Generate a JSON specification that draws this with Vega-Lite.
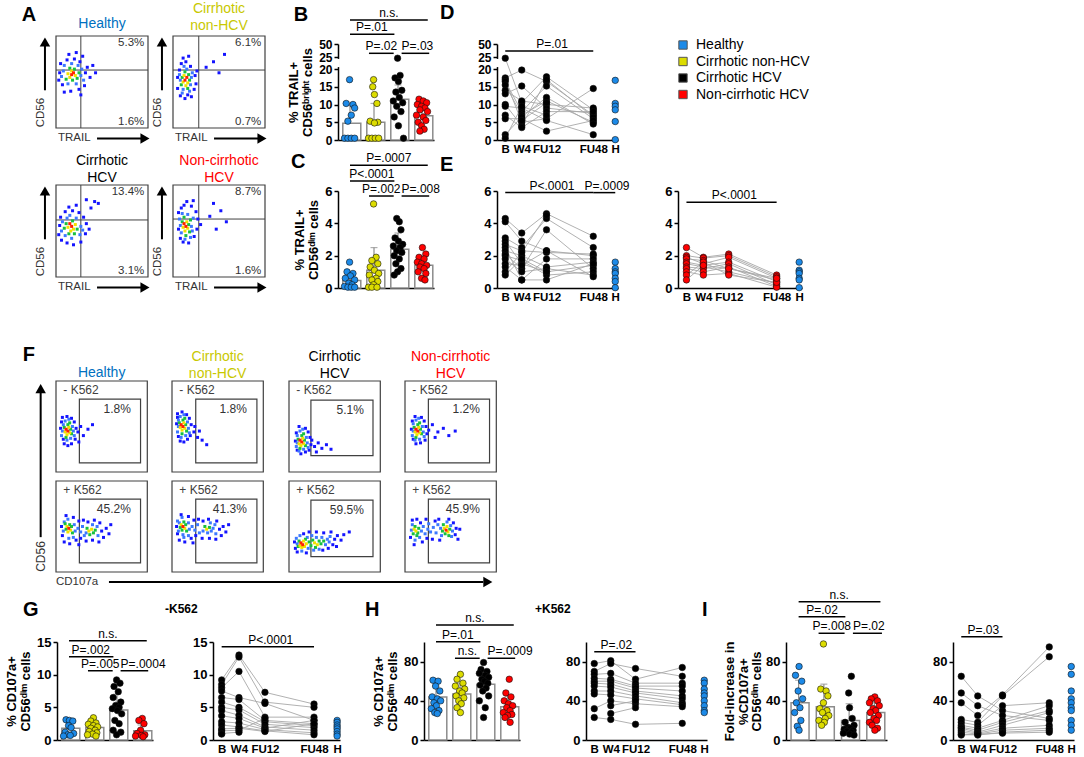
{
"$schema": "https://vega.github.io/schema/vega-lite/v6.json",
"background": "white",
"padding": 0,
"spacing": 0,
"bounds": "full",
"config": {
  "font": "Liberation Sans",
  "view": {"stroke": null},
  "axis": {"domainColor":"black","domainWidth":1.5,"tickColor":"black","tickWidth":1.5,"tickSize":4,"labelPadding":2,"labelFontSize":13,"labelFontWeight":"bold","labelColor":"black","titleFontSize":13,"titleFontWeight":"bold","titleColor":"black","titlePadding":4,"titleLineHeight":14,"grid":false,"labelOverlap":false},
  "legend": {"orient":"none","legendX":676,"legendY":38,"direction":"vertical","symbolType":"square","symbolSize":70,"symbolStrokeColor":"#555","symbolStrokeWidth":1,"labelFontSize":14,"labelColor":"black","labelOffset":6,"rowPadding":2.5,"padding":0,"labelFont":"Liberation Sans"}
},
"resolve": {"scale": {"xOffset": "independent"}},
"datasets": {
"one": [{}],
"flow": [
{"p":"A1","x":17,"y":58,"d":4},{"p":"A1","x":19,"y":60,"d":4},{"p":"A1","x":15,"y":55,"d":3},{"p":"A1","x":21,"y":57,"d":3},{"p":"A1","x":17,"y":62,"d":3},{"p":"A1","x":13,"y":59,"d":3},{"p":"A1","x":23,"y":54,"d":2},{"p":"A1","x":18,"y":52,"d":2},{"p":"A1","x":20,"y":64,"d":2},{"p":"A1","x":15,"y":65,"d":2},{"p":"A1","x":25,"y":60,"d":2},{"p":"A1","x":11,"y":53,"d":2},{"p":"A1","x":8,"y":62,"d":1},{"p":"A1","x":27,"y":57,"d":1},{"p":"A1","x":13,"y":48,"d":1},{"p":"A1","x":22,"y":48,"d":1},{"p":"A1","x":28,"y":64,"d":1},{"p":"A1","x":9,"y":68,"d":1},{"p":"A1","x":17,"y":70,"d":1},{"p":"A1","x":24,"y":68,"d":1},{"p":"A1","x":6,"y":56,"d":1},{"p":"A1","x":30,"y":52,"d":1},{"p":"A1","x":4,"y":60,"d":0},{"p":"A1","x":5,"y":70,"d":0},{"p":"A1","x":7,"y":47,"d":0},{"p":"A1","x":12,"y":74,"d":0},{"p":"A1","x":20,"y":75,"d":0},{"p":"A1","x":26,"y":72,"d":0},{"p":"A1","x":32,"y":60,"d":0},{"p":"A1","x":34,"y":66,"d":0},{"p":"A1","x":31,"y":46,"d":0},{"p":"A1","x":25,"y":42,"d":0},{"p":"A1","x":16,"y":40,"d":0},{"p":"A1","x":9,"y":39,"d":0},{"p":"A1","x":3,"y":52,"d":0},{"p":"A1","x":37,"y":55,"d":0},{"p":"A1","x":14,"y":80,"d":0},{"p":"A1","x":22,"y":82,"d":0},{"p":"A1","x":29,"y":78,"d":0},{"p":"A1","x":40,"y":68,"d":0},{"p":"A1","x":43,"y":60,"d":0},{"p":"A1","x":27,"y":36,"d":0},
{"p":"A2","x":13,"y":52,"d":4},{"p":"A2","x":15,"y":55,"d":4},{"p":"A2","x":11,"y":50,"d":3},{"p":"A2","x":16,"y":49,"d":3},{"p":"A2","x":12,"y":57,"d":3},{"p":"A2","x":14,"y":46,"d":3},{"p":"A2","x":17,"y":58,"d":2},{"p":"A2","x":10,"y":55,"d":2},{"p":"A2","x":18,"y":52,"d":2},{"p":"A2","x":9,"y":47,"d":2},{"p":"A2","x":13,"y":61,"d":2},{"p":"A2","x":16,"y":43,"d":2},{"p":"A2","x":8,"y":52,"d":1},{"p":"A2","x":20,"y":55,"d":1},{"p":"A2","x":11,"y":42,"d":1},{"p":"A2","x":19,"y":47,"d":1},{"p":"A2","x":7,"y":58,"d":1},{"p":"A2","x":15,"y":64,"d":1},{"p":"A2","x":21,"y":60,"d":1},{"p":"A2","x":10,"y":38,"d":1},{"p":"A2","x":18,"y":40,"d":1},{"p":"A2","x":12,"y":67,"d":1},{"p":"A2","x":5,"y":55,"d":0},{"p":"A2","x":7,"y":63,"d":0},{"p":"A2","x":9,"y":70,"d":0},{"p":"A2","x":14,"y":72,"d":0},{"p":"A2","x":19,"y":67,"d":0},{"p":"A2","x":24,"y":57,"d":0},{"p":"A2","x":25,"y":48,"d":0},{"p":"A2","x":23,"y":42,"d":0},{"p":"A2","x":16,"y":36,"d":0},{"p":"A2","x":8,"y":35,"d":0},{"p":"A2","x":5,"y":43,"d":0},{"p":"A2","x":13,"y":32,"d":0},{"p":"A2","x":20,"y":34,"d":0},{"p":"A2","x":26,"y":62,"d":0},{"p":"A2","x":11,"y":76,"d":0},{"p":"A2","x":17,"y":78,"d":0},{"p":"A2","x":36,"y":66,"d":0},{"p":"A2","x":44,"y":72,"d":0},{"p":"A2","x":50,"y":60,"d":0},{"p":"A2","x":56,"y":80,"d":0},
{"p":"A3","x":17,"y":55,"d":4},{"p":"A3","x":15,"y":58,"d":4},{"p":"A3","x":19,"y":52,"d":3},{"p":"A3","x":13,"y":54,"d":3},{"p":"A3","x":21,"y":57,"d":3},{"p":"A3","x":16,"y":50,"d":3},{"p":"A3","x":18,"y":61,"d":2},{"p":"A3","x":11,"y":58,"d":2},{"p":"A3","x":23,"y":52,"d":2},{"p":"A3","x":14,"y":47,"d":2},{"p":"A3","x":20,"y":47,"d":2},{"p":"A3","x":9,"y":53,"d":2},{"p":"A3","x":7,"y":60,"d":1},{"p":"A3","x":12,"y":64,"d":1},{"p":"A3","x":22,"y":64,"d":1},{"p":"A3","x":27,"y":55,"d":1},{"p":"A3","x":26,"y":46,"d":1},{"p":"A3","x":10,"y":45,"d":1},{"p":"A3","x":17,"y":42,"d":1},{"p":"A3","x":6,"y":50,"d":1},{"p":"A3","x":29,"y":51,"d":1},{"p":"A3","x":15,"y":67,"d":1},{"p":"A3","x":4,"y":56,"d":0},{"p":"A3","x":3,"y":46,"d":0},{"p":"A3","x":6,"y":40,"d":0},{"p":"A3","x":12,"y":37,"d":0},{"p":"A3","x":19,"y":35,"d":0},{"p":"A3","x":27,"y":38,"d":0},{"p":"A3","x":32,"y":47,"d":0},{"p":"A3","x":33,"y":58,"d":0},{"p":"A3","x":30,"y":65,"d":0},{"p":"A3","x":25,"y":70,"d":0},{"p":"A3","x":18,"y":72,"d":0},{"p":"A3","x":10,"y":71,"d":0},{"p":"A3","x":5,"y":65,"d":0},{"p":"A3","x":14,"y":76,"d":0},{"p":"A3","x":22,"y":78,"d":0},{"p":"A3","x":36,"y":52,"d":0},{"p":"A3","x":38,"y":75,"d":0},{"p":"A3","x":42,"y":82,"d":0},{"p":"A3","x":33,"y":84,"d":0},{"p":"A3","x":46,"y":80,"d":0},
{"p":"A4","x":14,"y":55,"d":4},{"p":"A4","x":12,"y":58,"d":4},{"p":"A4","x":16,"y":53,"d":3},{"p":"A4","x":13,"y":50,"d":3},{"p":"A4","x":15,"y":60,"d":3},{"p":"A4","x":11,"y":54,"d":3},{"p":"A4","x":17,"y":57,"d":2},{"p":"A4","x":18,"y":49,"d":2},{"p":"A4","x":10,"y":60,"d":2},{"p":"A4","x":14,"y":45,"d":2},{"p":"A4","x":19,"y":62,"d":2},{"p":"A4","x":12,"y":65,"d":2},{"p":"A4","x":8,"y":56,"d":1},{"p":"A4","x":20,"y":55,"d":1},{"p":"A4","x":9,"y":48,"d":1},{"p":"A4","x":21,"y":50,"d":1},{"p":"A4","x":16,"y":68,"d":1},{"p":"A4","x":10,"y":69,"d":1},{"p":"A4","x":22,"y":64,"d":1},{"p":"A4","x":13,"y":41,"d":1},{"p":"A4","x":19,"y":43,"d":1},{"p":"A4","x":7,"y":63,"d":1},{"p":"A4","x":6,"y":52,"d":0},{"p":"A4","x":6,"y":70,"d":0},{"p":"A4","x":8,"y":42,"d":0},{"p":"A4","x":11,"y":38,"d":0},{"p":"A4","x":17,"y":37,"d":0},{"p":"A4","x":23,"y":44,"d":0},{"p":"A4","x":26,"y":52,"d":0},{"p":"A4","x":27,"y":63,"d":0},{"p":"A4","x":25,"y":71,"d":0},{"p":"A4","x":20,"y":77,"d":0},{"p":"A4","x":12,"y":78,"d":0},{"p":"A4","x":9,"y":75,"d":0},{"p":"A4","x":15,"y":82,"d":0},{"p":"A4","x":22,"y":83,"d":0},{"p":"A4","x":30,"y":57,"d":0},{"p":"A4","x":40,"y":66,"d":0},{"p":"A4","x":47,"y":52,"d":0},{"p":"A4","x":52,"y":72,"d":0},{"p":"A4","x":44,"y":80,"d":0},{"p":"A4","x":58,"y":60,"d":0},
{"p":"F1","x":13,"y":45,"d":4},{"p":"F1","x":11,"y":47,"d":4},{"p":"F1","x":15,"y":43,"d":3},{"p":"F1","x":12,"y":41,"d":3},{"p":"F1","x":14,"y":49,"d":3},{"p":"F1","x":10,"y":44,"d":3},{"p":"F1","x":16,"y":47,"d":2},{"p":"F1","x":13,"y":52,"d":2},{"p":"F1","x":9,"y":49,"d":2},{"p":"F1","x":17,"y":42,"d":2},{"p":"F1","x":11,"y":38,"d":2},{"p":"F1","x":15,"y":54,"d":2},{"p":"F1","x":7,"y":45,"d":1},{"p":"F1","x":8,"y":52,"d":1},{"p":"F1","x":18,"y":50,"d":1},{"p":"F1","x":19,"y":45,"d":1},{"p":"F1","x":12,"y":35,"d":1},{"p":"F1","x":16,"y":37,"d":1},{"p":"F1","x":10,"y":56,"d":1},{"p":"F1","x":14,"y":58,"d":1},{"p":"F1","x":6,"y":40,"d":1},{"p":"F1","x":20,"y":40,"d":1},{"p":"F1","x":5,"y":48,"d":0},{"p":"F1","x":6,"y":55,"d":0},{"p":"F1","x":8,"y":36,"d":0},{"p":"F1","x":9,"y":31,"d":0},{"p":"F1","x":13,"y":29,"d":0},{"p":"F1","x":17,"y":31,"d":0},{"p":"F1","x":21,"y":36,"d":0},{"p":"F1","x":22,"y":48,"d":0},{"p":"F1","x":20,"y":55,"d":0},{"p":"F1","x":17,"y":59,"d":0},{"p":"F1","x":12,"y":61,"d":0},{"p":"F1","x":7,"y":60,"d":0},{"p":"F1","x":24,"y":44,"d":0},{"p":"F1","x":27,"y":50,"d":0},{"p":"F1","x":30,"y":40,"d":0},{"p":"F1","x":35,"y":47,"d":0},{"p":"F1","x":40,"y":52,"d":0},{"p":"F1","x":25,"y":33,"d":0},
{"p":"F2","x":12,"y":50,"d":4},{"p":"F2","x":10,"y":52,"d":4},{"p":"F2","x":14,"y":48,"d":3},{"p":"F2","x":11,"y":46,"d":3},{"p":"F2","x":13,"y":54,"d":3},{"p":"F2","x":9,"y":49,"d":3},{"p":"F2","x":15,"y":52,"d":2},{"p":"F2","x":12,"y":57,"d":2},{"p":"F2","x":8,"y":54,"d":2},{"p":"F2","x":16,"y":45,"d":2},{"p":"F2","x":11,"y":42,"d":2},{"p":"F2","x":14,"y":59,"d":2},{"p":"F2","x":7,"y":50,"d":1},{"p":"F2","x":7,"y":57,"d":1},{"p":"F2","x":17,"y":55,"d":1},{"p":"F2","x":18,"y":48,"d":1},{"p":"F2","x":10,"y":38,"d":1},{"p":"F2","x":15,"y":40,"d":1},{"p":"F2","x":9,"y":61,"d":1},{"p":"F2","x":13,"y":63,"d":1},{"p":"F2","x":6,"y":44,"d":1},{"p":"F2","x":19,"y":43,"d":1},{"p":"F2","x":5,"y":53,"d":0},{"p":"F2","x":6,"y":60,"d":0},{"p":"F2","x":7,"y":39,"d":0},{"p":"F2","x":9,"y":34,"d":0},{"p":"F2","x":13,"y":33,"d":0},{"p":"F2","x":17,"y":36,"d":0},{"p":"F2","x":20,"y":40,"d":0},{"p":"F2","x":21,"y":52,"d":0},{"p":"F2","x":19,"y":59,"d":0},{"p":"F2","x":16,"y":63,"d":0},{"p":"F2","x":11,"y":66,"d":0},{"p":"F2","x":6,"y":64,"d":0},{"p":"F2","x":24,"y":44,"d":0},{"p":"F2","x":28,"y":38,"d":0},{"p":"F2","x":33,"y":35,"d":0},{"p":"F2","x":38,"y":30,"d":0},{"p":"F2","x":25,"y":50,"d":0},{"p":"F2","x":30,"y":45,"d":0},
{"p":"F3","x":14,"y":33,"d":4},{"p":"F3","x":12,"y":35,"d":4},{"p":"F3","x":16,"y":31,"d":3},{"p":"F3","x":13,"y":29,"d":3},{"p":"F3","x":15,"y":37,"d":3},{"p":"F3","x":11,"y":31,"d":3},{"p":"F3","x":17,"y":35,"d":2},{"p":"F3","x":14,"y":40,"d":2},{"p":"F3","x":10,"y":36,"d":2},{"p":"F3","x":18,"y":29,"d":2},{"p":"F3","x":12,"y":26,"d":2},{"p":"F3","x":16,"y":42,"d":2},{"p":"F3","x":9,"y":32,"d":1},{"p":"F3","x":9,"y":40,"d":1},{"p":"F3","x":19,"y":38,"d":1},{"p":"F3","x":20,"y":32,"d":1},{"p":"F3","x":11,"y":23,"d":1},{"p":"F3","x":16,"y":25,"d":1},{"p":"F3","x":12,"y":45,"d":1},{"p":"F3","x":15,"y":47,"d":1},{"p":"F3","x":8,"y":28,"d":1},{"p":"F3","x":21,"y":27,"d":1},{"p":"F3","x":7,"y":34,"d":0},{"p":"F3","x":8,"y":43,"d":0},{"p":"F3","x":9,"y":24,"d":0},{"p":"F3","x":13,"y":20,"d":0},{"p":"F3","x":18,"y":22,"d":0},{"p":"F3","x":22,"y":24,"d":0},{"p":"F3","x":24,"y":30,"d":0},{"p":"F3","x":23,"y":38,"d":0},{"p":"F3","x":21,"y":44,"d":0},{"p":"F3","x":18,"y":48,"d":0},{"p":"F3","x":11,"y":50,"d":0},{"p":"F3","x":25,"y":35,"d":0},{"p":"F3","x":28,"y":28,"d":0},{"p":"F3","x":32,"y":32,"d":0},{"p":"F3","x":36,"y":26,"d":0},{"p":"F3","x":41,"y":30,"d":0},{"p":"F3","x":46,"y":25,"d":0},{"p":"F3","x":30,"y":22,"d":0},
{"p":"F4","x":14,"y":45,"d":4},{"p":"F4","x":12,"y":47,"d":4},{"p":"F4","x":16,"y":43,"d":3},{"p":"F4","x":13,"y":41,"d":3},{"p":"F4","x":15,"y":49,"d":3},{"p":"F4","x":11,"y":44,"d":3},{"p":"F4","x":17,"y":47,"d":2},{"p":"F4","x":14,"y":52,"d":2},{"p":"F4","x":10,"y":49,"d":2},{"p":"F4","x":18,"y":42,"d":2},{"p":"F4","x":12,"y":38,"d":2},{"p":"F4","x":16,"y":54,"d":2},{"p":"F4","x":9,"y":45,"d":1},{"p":"F4","x":9,"y":53,"d":1},{"p":"F4","x":19,"y":50,"d":1},{"p":"F4","x":20,"y":44,"d":1},{"p":"F4","x":11,"y":35,"d":1},{"p":"F4","x":16,"y":36,"d":1},{"p":"F4","x":12,"y":57,"d":1},{"p":"F4","x":15,"y":59,"d":1},{"p":"F4","x":8,"y":40,"d":1},{"p":"F4","x":21,"y":39,"d":1},{"p":"F4","x":7,"y":47,"d":0},{"p":"F4","x":8,"y":56,"d":0},{"p":"F4","x":9,"y":36,"d":0},{"p":"F4","x":12,"y":31,"d":0},{"p":"F4","x":17,"y":32,"d":0},{"p":"F4","x":22,"y":35,"d":0},{"p":"F4","x":24,"y":42,"d":0},{"p":"F4","x":23,"y":50,"d":0},{"p":"F4","x":21,"y":56,"d":0},{"p":"F4","x":18,"y":60,"d":0},{"p":"F4","x":11,"y":61,"d":0},{"p":"F4","x":26,"y":46,"d":0},{"p":"F4","x":30,"y":52,"d":0},{"p":"F4","x":36,"y":44,"d":0},{"p":"F4","x":42,"y":48,"d":0},{"p":"F4","x":48,"y":40,"d":0},{"p":"F4","x":55,"y":45,"d":0},{"p":"F4","x":33,"y":38,"d":0},
{"p":"F5","x":14,"y":48,"d":4},{"p":"F5","x":12,"y":50,"d":3},{"p":"F5","x":16,"y":46,"d":3},{"p":"F5","x":13,"y":44,"d":3},{"p":"F5","x":36,"y":45,"d":3},{"p":"F5","x":39,"y":47,"d":3},{"p":"F5","x":15,"y":52,"d":2},{"p":"F5","x":11,"y":47,"d":2},{"p":"F5","x":17,"y":50,"d":2},{"p":"F5","x":10,"y":53,"d":2},{"p":"F5","x":18,"y":43,"d":2},{"p":"F5","x":41,"y":43,"d":2},{"p":"F5","x":34,"y":48,"d":2},{"p":"F5","x":37,"y":41,"d":2},{"p":"F5","x":43,"y":46,"d":2},{"p":"F5","x":8,"y":45,"d":1},{"p":"F5","x":9,"y":55,"d":1},{"p":"F5","x":20,"y":52,"d":1},{"p":"F5","x":21,"y":45,"d":1},{"p":"F5","x":14,"y":37,"d":1},{"p":"F5","x":19,"y":38,"d":1},{"p":"F5","x":13,"y":58,"d":1},{"p":"F5","x":24,"y":48,"d":1},{"p":"F5","x":27,"y":44,"d":1},{"p":"F5","x":29,"y":50,"d":1},{"p":"F5","x":31,"y":40,"d":1},{"p":"F5","x":45,"y":50,"d":1},{"p":"F5","x":40,"y":52,"d":1},{"p":"F5","x":46,"y":40,"d":1},{"p":"F5","x":33,"y":43,"d":1},{"p":"F5","x":6,"y":50,"d":0},{"p":"F5","x":7,"y":40,"d":0},{"p":"F5","x":9,"y":33,"d":0},{"p":"F5","x":15,"y":31,"d":0},{"p":"F5","x":22,"y":35,"d":0},{"p":"F5","x":25,"y":56,"d":0},{"p":"F5","x":30,"y":57,"d":0},{"p":"F5","x":19,"y":60,"d":0},{"p":"F5","x":11,"y":62,"d":0},{"p":"F5","x":35,"y":55,"d":0},{"p":"F5","x":42,"y":57,"d":0},{"p":"F5","x":48,"y":54,"d":0},{"p":"F5","x":50,"y":45,"d":0},{"p":"F5","x":52,"y":38,"d":0},{"p":"F5","x":47,"y":33,"d":0},{"p":"F5","x":40,"y":35,"d":0},{"p":"F5","x":33,"y":34,"d":0},{"p":"F5","x":27,"y":37,"d":0},{"p":"F5","x":55,"y":48,"d":0},{"p":"F5","x":58,"y":42,"d":0},{"p":"F5","x":60,"y":52,"d":0},{"p":"F5","x":25,"y":30,"d":0},
{"p":"F6","x":12,"y":50,"d":4},{"p":"F6","x":10,"y":52,"d":3},{"p":"F6","x":14,"y":48,"d":3},{"p":"F6","x":38,"y":47,"d":3},{"p":"F6","x":11,"y":46,"d":2},{"p":"F6","x":13,"y":55,"d":2},{"p":"F6","x":9,"y":49,"d":2},{"p":"F6","x":15,"y":52,"d":2},{"p":"F6","x":16,"y":45,"d":2},{"p":"F6","x":41,"y":49,"d":2},{"p":"F6","x":36,"y":50,"d":2},{"p":"F6","x":8,"y":54,"d":1},{"p":"F6","x":12,"y":41,"d":1},{"p":"F6","x":43,"y":45,"d":1},{"p":"F6","x":39,"y":43,"d":1},{"p":"F6","x":45,"y":48,"d":1},{"p":"F6","x":34,"y":45,"d":1},{"p":"F6","x":7,"y":45,"d":1},{"p":"F6","x":6,"y":56,"d":1},{"p":"F6","x":18,"y":54,"d":1},{"p":"F6","x":19,"y":47,"d":1},{"p":"F6","x":13,"y":38,"d":1},{"p":"F6","x":18,"y":40,"d":1},{"p":"F6","x":11,"y":60,"d":1},{"p":"F6","x":22,"y":50,"d":1},{"p":"F6","x":25,"y":46,"d":1},{"p":"F6","x":28,"y":52,"d":1},{"p":"F6","x":30,"y":43,"d":1},{"p":"F6","x":47,"y":52,"d":1},{"p":"F6","x":42,"y":54,"d":1},{"p":"F6","x":48,"y":42,"d":1},{"p":"F6","x":5,"y":50,"d":0},{"p":"F6","x":6,"y":42,"d":0},{"p":"F6","x":8,"y":35,"d":0},{"p":"F6","x":14,"y":33,"d":0},{"p":"F6","x":21,"y":37,"d":0},{"p":"F6","x":24,"y":57,"d":0},{"p":"F6","x":29,"y":58,"d":0},{"p":"F6","x":18,"y":61,"d":0},{"p":"F6","x":10,"y":63,"d":0},{"p":"F6","x":34,"y":56,"d":0},{"p":"F6","x":40,"y":58,"d":0},{"p":"F6","x":49,"y":56,"d":0},{"p":"F6","x":52,"y":47,"d":0},{"p":"F6","x":54,"y":40,"d":0},{"p":"F6","x":48,"y":36,"d":0},{"p":"F6","x":41,"y":37,"d":0},{"p":"F6","x":33,"y":37,"d":0},{"p":"F6","x":26,"y":40,"d":0},{"p":"F6","x":56,"y":50,"d":0},{"p":"F6","x":59,"y":44,"d":0},{"p":"F6","x":62,"y":52,"d":0},{"p":"F6","x":23,"y":32,"d":0},
{"p":"F7","x":15,"y":30,"d":4},{"p":"F7","x":13,"y":32,"d":4},{"p":"F7","x":17,"y":28,"d":3},{"p":"F7","x":14,"y":27,"d":3},{"p":"F7","x":16,"y":34,"d":3},{"p":"F7","x":12,"y":29,"d":3},{"p":"F7","x":19,"y":31,"d":3},{"p":"F7","x":28,"y":32,"d":3},{"p":"F7","x":31,"y":30,"d":3},{"p":"F7","x":11,"y":34,"d":2},{"p":"F7","x":18,"y":36,"d":2},{"p":"F7","x":10,"y":28,"d":2},{"p":"F7","x":33,"y":34,"d":2},{"p":"F7","x":26,"y":35,"d":2},{"p":"F7","x":29,"y":27,"d":2},{"p":"F7","x":35,"y":31,"d":2},{"p":"F7","x":24,"y":29,"d":2},{"p":"F7","x":38,"y":34,"d":2},{"p":"F7","x":22,"y":33,"d":2},{"p":"F7","x":9,"y":31,"d":1},{"p":"F7","x":8,"y":37,"d":1},{"p":"F7","x":20,"y":38,"d":1},{"p":"F7","x":21,"y":26,"d":1},{"p":"F7","x":14,"y":23,"d":1},{"p":"F7","x":25,"y":40,"d":1},{"p":"F7","x":30,"y":38,"d":1},{"p":"F7","x":36,"y":38,"d":1},{"p":"F7","x":40,"y":30,"d":1},{"p":"F7","x":42,"y":36,"d":1},{"p":"F7","x":44,"y":33,"d":1},{"p":"F7","x":27,"y":24,"d":1},{"p":"F7","x":33,"y":25,"d":1},{"p":"F7","x":12,"y":40,"d":1},{"p":"F7","x":45,"y":39,"d":1},{"p":"F7","x":7,"y":26,"d":0},{"p":"F7","x":9,"y":22,"d":0},{"p":"F7","x":16,"y":42,"d":0},{"p":"F7","x":22,"y":44,"d":0},{"p":"F7","x":30,"y":44,"d":0},{"p":"F7","x":38,"y":43,"d":0},{"p":"F7","x":46,"y":44,"d":0},{"p":"F7","x":48,"y":30,"d":0},{"p":"F7","x":50,"y":36,"d":0},{"p":"F7","x":43,"y":26,"d":0},{"p":"F7","x":37,"y":24,"d":0},{"p":"F7","x":19,"y":21,"d":0},{"p":"F7","x":53,"y":40,"d":0},{"p":"F7","x":57,"y":35,"d":0},{"p":"F7","x":60,"y":41,"d":0},{"p":"F7","x":66,"y":44,"d":0},{"p":"F7","x":52,"y":28,"d":0},{"p":"F7","x":6,"y":33,"d":0},
{"p":"F8","x":45,"y":46,"d":4},{"p":"F8","x":12,"y":45,"d":3},{"p":"F8","x":10,"y":47,"d":3},{"p":"F8","x":47,"y":44,"d":3},{"p":"F8","x":43,"y":48,"d":3},{"p":"F8","x":46,"y":50,"d":3},{"p":"F8","x":14,"y":43,"d":2},{"p":"F8","x":11,"y":50,"d":2},{"p":"F8","x":13,"y":40,"d":2},{"p":"F8","x":9,"y":42,"d":2},{"p":"F8","x":15,"y":48,"d":2},{"p":"F8","x":44,"y":42,"d":2},{"p":"F8","x":49,"y":47,"d":2},{"p":"F8","x":41,"y":45,"d":2},{"p":"F8","x":48,"y":40,"d":2},{"p":"F8","x":42,"y":52,"d":2},{"p":"F8","x":8,"y":52,"d":1},{"p":"F8","x":16,"y":38,"d":1},{"p":"F8","x":11,"y":35,"d":1},{"p":"F8","x":7,"y":46,"d":1},{"p":"F8","x":50,"y":51,"d":1},{"p":"F8","x":39,"y":48,"d":1},{"p":"F8","x":52,"y":45,"d":1},{"p":"F8","x":40,"y":40,"d":1},{"p":"F8","x":46,"y":55,"d":1},{"p":"F8","x":51,"y":39,"d":1},{"p":"F8","x":18,"y":45,"d":1},{"p":"F8","x":20,"y":50,"d":1},{"p":"F8","x":22,"y":42,"d":1},{"p":"F8","x":25,"y":47,"d":1},{"p":"F8","x":28,"y":44,"d":1},{"p":"F8","x":31,"y":49,"d":1},{"p":"F8","x":34,"y":43,"d":1},{"p":"F8","x":36,"y":52,"d":1},{"p":"F8","x":26,"y":53,"d":1},{"p":"F8","x":6,"y":38,"d":0},{"p":"F8","x":8,"y":57,"d":0},{"p":"F8","x":13,"y":58,"d":0},{"p":"F8","x":17,"y":54,"d":0},{"p":"F8","x":19,"y":33,"d":0},{"p":"F8","x":24,"y":37,"d":0},{"p":"F8","x":30,"y":36,"d":0},{"p":"F8","x":33,"y":56,"d":0},{"p":"F8","x":38,"y":35,"d":0},{"p":"F8","x":53,"y":54,"d":0},{"p":"F8","x":55,"y":41,"d":0},{"p":"F8","x":56,"y":48,"d":0},{"p":"F8","x":58,"y":36,"d":0},{"p":"F8","x":37,"y":58,"d":0},{"p":"F8","x":48,"y":58,"d":0},{"p":"F8","x":10,"y":30,"d":0},{"p":"F8","x":60,"y":47,"d":0},{"p":"F8","x":23,"y":58,"d":0}
],
"bars": [
{"n":"B","g":"Healthy","m":4.7,"e":9.8},{"n":"B","g":"Cirrhotic non-HCV","m":5.0,"e":10.3},{"n":"B","g":"Cirrhotic HCV","m":11.5,"e":15.5},{"n":"B","g":"Non-cirrhotic HCV","m":6.8,"e":9.5},
{"n":"C","g":"Healthy","m":0.47,"e":0.95},{"n":"C","g":"Cirrhotic non-HCV","m":1.1,"e":2.5},{"n":"C","g":"Cirrhotic HCV","m":2.4,"e":3.4},{"n":"C","g":"Non-cirrhotic HCV","m":1.4,"e":1.9},
{"n":"G","g":"Healthy","m":1.8,"e":2.7},{"n":"G","g":"Cirrhotic non-HCV","m":1.9,"e":2.7},{"n":"G","g":"Cirrhotic HCV","m":4.6,"e":7.0},{"n":"G","g":"Non-cirrhotic HCV","m":1.4,"e":2.3},
{"n":"H","g":"Healthy","m":44,"e":55},{"n":"H","g":"Cirrhotic non-HCV","m":47,"e":58},{"n":"H","g":"Cirrhotic HCV","m":57,"e":66},{"n":"H","g":"Non-cirrhotic HCV","m":34,"e":45},
{"n":"I","g":"Healthy","m":38,"e":61},{"n":"I","g":"Cirrhotic non-HCV","m":34,"e":57},{"n":"I","g":"Cirrhotic HCV","m":20,"e":37},{"n":"I","g":"Non-cirrhotic HCV","m":28,"e":38}
],
"dots": [
{"n":"B","g":"Healthy","v":17,"s":8},{"n":"B","g":"Healthy","v":10.3,"s":4},{"n":"B","g":"Healthy","v":10,"s":12},{"n":"B","g":"Healthy","v":9,"s":14},{"n":"B","g":"Healthy","v":7,"s":10},{"n":"B","g":"Healthy","v":5.3,"s":6},{"n":"B","g":"Healthy","v":0.5,"s":2},{"n":"B","g":"Healthy","v":0.5,"s":6},{"n":"B","g":"Healthy","v":0.5,"s":10},{"n":"B","g":"Healthy","v":0.5,"s":14},
{"n":"B","g":"Cirrhotic non-HCV","v":17,"s":8},{"n":"B","g":"Cirrhotic non-HCV","v":15,"s":7},{"n":"B","g":"Cirrhotic non-HCV","v":12.8,"s":9},{"n":"B","g":"Cirrhotic non-HCV","v":10.3,"s":12},{"n":"B","g":"Cirrhotic non-HCV","v":5.3,"s":4},{"n":"B","g":"Cirrhotic non-HCV","v":5,"s":13},{"n":"B","g":"Cirrhotic non-HCV","v":4.8,"s":9},{"n":"B","g":"Cirrhotic non-HCV","v":0.5,"s":2},{"n":"B","g":"Cirrhotic non-HCV","v":0.5,"s":6},{"n":"B","g":"Cirrhotic non-HCV","v":0.5,"s":10},{"n":"B","g":"Cirrhotic non-HCV","v":0.5,"s":14},
{"n":"B","g":"Cirrhotic HCV","v":24.5,"s":8},{"n":"B","g":"Cirrhotic HCV","v":18.2,"s":11},{"n":"B","g":"Cirrhotic HCV","v":17.5,"s":5},{"n":"B","g":"Cirrhotic HCV","v":16.5,"s":9},{"n":"B","g":"Cirrhotic HCV","v":14,"s":13},{"n":"B","g":"Cirrhotic HCV","v":13.5,"s":6},{"n":"B","g":"Cirrhotic HCV","v":12,"s":10},{"n":"B","g":"Cirrhotic HCV","v":11,"s":3},{"n":"B","g":"Cirrhotic HCV","v":10.5,"s":14},{"n":"B","g":"Cirrhotic HCV","v":9.5,"s":7},{"n":"B","g":"Cirrhotic HCV","v":8,"s":12},{"n":"B","g":"Cirrhotic HCV","v":6.5,"s":4},{"n":"B","g":"Cirrhotic HCV","v":4,"s":9},{"n":"B","g":"Cirrhotic HCV","v":0.5,"s":15},
{"n":"B","g":"Non-cirrhotic HCV","v":11.5,"s":5},{"n":"B","g":"Non-cirrhotic HCV","v":11,"s":10},{"n":"B","g":"Non-cirrhotic HCV","v":10.5,"s":14},{"n":"B","g":"Non-cirrhotic HCV","v":10,"s":3},{"n":"B","g":"Non-cirrhotic HCV","v":9.5,"s":8},{"n":"B","g":"Non-cirrhotic HCV","v":9,"s":12},{"n":"B","g":"Non-cirrhotic HCV","v":8.5,"s":6},{"n":"B","g":"Non-cirrhotic HCV","v":8,"s":15},{"n":"B","g":"Non-cirrhotic HCV","v":7,"s":2},{"n":"B","g":"Non-cirrhotic HCV","v":6.5,"s":10},{"n":"B","g":"Non-cirrhotic HCV","v":5.5,"s":13},{"n":"B","g":"Non-cirrhotic HCV","v":5,"s":4},{"n":"B","g":"Non-cirrhotic HCV","v":4,"s":8},{"n":"B","g":"Non-cirrhotic HCV","v":3,"s":11},{"n":"B","g":"Non-cirrhotic HCV","v":2.5,"s":6},
{"n":"C","g":"Healthy","v":1.6,"s":8},{"n":"C","g":"Healthy","v":1.0,"s":5},{"n":"C","g":"Healthy","v":0.9,"s":12},{"n":"C","g":"Healthy","v":0.75,"s":9},{"n":"C","g":"Healthy","v":0.6,"s":3},{"n":"C","g":"Healthy","v":0.5,"s":14},{"n":"C","g":"Healthy","v":0.3,"s":7},{"n":"C","g":"Healthy","v":0.2,"s":11},{"n":"C","g":"Healthy","v":0.1,"s":2},{"n":"C","g":"Healthy","v":0.05,"s":6},{"n":"C","g":"Healthy","v":0.05,"s":10},{"n":"C","g":"Healthy","v":0.05,"s":14},
{"n":"C","g":"Cirrhotic non-HCV","v":5.2,"s":8},{"n":"C","g":"Cirrhotic non-HCV","v":1.9,"s":11},{"n":"C","g":"Cirrhotic non-HCV","v":1.7,"s":6},{"n":"C","g":"Cirrhotic non-HCV","v":1.5,"s":13},{"n":"C","g":"Cirrhotic non-HCV","v":1.3,"s":4},{"n":"C","g":"Cirrhotic non-HCV","v":1.1,"s":9},{"n":"C","g":"Cirrhotic non-HCV","v":0.9,"s":14},{"n":"C","g":"Cirrhotic non-HCV","v":0.8,"s":3},{"n":"C","g":"Cirrhotic non-HCV","v":0.6,"s":11},{"n":"C","g":"Cirrhotic non-HCV","v":0.5,"s":6},{"n":"C","g":"Cirrhotic non-HCV","v":0.4,"s":13},{"n":"C","g":"Cirrhotic non-HCV","v":0.2,"s":8},{"n":"C","g":"Cirrhotic non-HCV","v":0.05,"s":2},{"n":"C","g":"Cirrhotic non-HCV","v":0.05,"s":6},{"n":"C","g":"Cirrhotic non-HCV","v":0.05,"s":12},
{"n":"C","g":"Cirrhotic HCV","v":4.3,"s":7},{"n":"C","g":"Cirrhotic HCV","v":4.1,"s":10},{"n":"C","g":"Cirrhotic HCV","v":3.6,"s":12},{"n":"C","g":"Cirrhotic HCV","v":3.1,"s":5},{"n":"C","g":"Cirrhotic HCV","v":2.9,"s":9},{"n":"C","g":"Cirrhotic HCV","v":2.7,"s":14},{"n":"C","g":"Cirrhotic HCV","v":2.6,"s":3},{"n":"C","g":"Cirrhotic HCV","v":2.5,"s":11},{"n":"C","g":"Cirrhotic HCV","v":2.3,"s":7},{"n":"C","g":"Cirrhotic HCV","v":2.2,"s":13},{"n":"C","g":"Cirrhotic HCV","v":2.0,"s":4},{"n":"C","g":"Cirrhotic HCV","v":1.8,"s":10},{"n":"C","g":"Cirrhotic HCV","v":1.5,"s":6},{"n":"C","g":"Cirrhotic HCV","v":1.2,"s":12},{"n":"C","g":"Cirrhotic HCV","v":1.0,"s":8},{"n":"C","g":"Cirrhotic HCV","v":0.8,"s":4},
{"n":"C","g":"Non-cirrhotic HCV","v":2.5,"s":9},{"n":"C","g":"Non-cirrhotic HCV","v":2.1,"s":13},{"n":"C","g":"Non-cirrhotic HCV","v":1.9,"s":5},{"n":"C","g":"Non-cirrhotic HCV","v":1.8,"s":11},{"n":"C","g":"Non-cirrhotic HCV","v":1.6,"s":3},{"n":"C","g":"Non-cirrhotic HCV","v":1.5,"s":8},{"n":"C","g":"Non-cirrhotic HCV","v":1.4,"s":14},{"n":"C","g":"Non-cirrhotic HCV","v":1.3,"s":6},{"n":"C","g":"Non-cirrhotic HCV","v":1.2,"s":11},{"n":"C","g":"Non-cirrhotic HCV","v":1.0,"s":4},{"n":"C","g":"Non-cirrhotic HCV","v":0.9,"s":13},{"n":"C","g":"Non-cirrhotic HCV","v":0.6,"s":8},{"n":"C","g":"Non-cirrhotic HCV","v":0.5,"s":12},
{"n":"G","g":"Healthy","v":3.1,"s":5},{"n":"G","g":"Healthy","v":3.0,"s":9},{"n":"G","g":"Healthy","v":2.9,"s":13},{"n":"G","g":"Healthy","v":2.2,"s":8},{"n":"G","g":"Healthy","v":1.9,"s":11},{"n":"G","g":"Healthy","v":1.2,"s":4},{"n":"G","g":"Healthy","v":1.0,"s":14},{"n":"G","g":"Healthy","v":0.8,"s":7},{"n":"G","g":"Healthy","v":0.7,"s":10},{"n":"G","g":"Healthy","v":0.6,"s":2},
{"n":"G","g":"Cirrhotic non-HCV","v":3.4,"s":9},{"n":"G","g":"Cirrhotic non-HCV","v":2.9,"s":6},{"n":"G","g":"Cirrhotic non-HCV","v":2.6,"s":12},{"n":"G","g":"Cirrhotic non-HCV","v":2.4,"s":3},{"n":"G","g":"Cirrhotic non-HCV","v":2.2,"s":9},{"n":"G","g":"Cirrhotic non-HCV","v":2.0,"s":14},{"n":"G","g":"Cirrhotic non-HCV","v":1.8,"s":6},{"n":"G","g":"Cirrhotic non-HCV","v":1.5,"s":11},{"n":"G","g":"Cirrhotic non-HCV","v":1.3,"s":4},{"n":"G","g":"Cirrhotic non-HCV","v":1.1,"s":13},{"n":"G","g":"Cirrhotic non-HCV","v":0.9,"s":8},{"n":"G","g":"Cirrhotic non-HCV","v":0.8,"s":2},{"n":"G","g":"Cirrhotic non-HCV","v":0.6,"s":12},
{"n":"G","g":"Cirrhotic HCV","v":9.2,"s":8},{"n":"G","g":"Cirrhotic HCV","v":8.7,"s":12},{"n":"G","g":"Cirrhotic HCV","v":8.2,"s":5},{"n":"G","g":"Cirrhotic HCV","v":7.4,"s":10},{"n":"G","g":"Cirrhotic HCV","v":6.5,"s":4},{"n":"G","g":"Cirrhotic HCV","v":5.8,"s":13},{"n":"G","g":"Cirrhotic HCV","v":5.3,"s":7},{"n":"G","g":"Cirrhotic HCV","v":5.0,"s":11},{"n":"G","g":"Cirrhotic HCV","v":4.8,"s":3},{"n":"G","g":"Cirrhotic HCV","v":4.5,"s":9},{"n":"G","g":"Cirrhotic HCV","v":4.0,"s":14},{"n":"G","g":"Cirrhotic HCV","v":3.0,"s":6},{"n":"G","g":"Cirrhotic HCV","v":2.5,"s":11},{"n":"G","g":"Cirrhotic HCV","v":1.5,"s":4},{"n":"G","g":"Cirrhotic HCV","v":1.2,"s":13},{"n":"G","g":"Cirrhotic HCV","v":0.8,"s":8},
{"n":"G","g":"Non-cirrhotic HCV","v":3.3,"s":10},{"n":"G","g":"Non-cirrhotic HCV","v":3.0,"s":6},{"n":"G","g":"Non-cirrhotic HCV","v":2.5,"s":12},{"n":"G","g":"Non-cirrhotic HCV","v":1.5,"s":8},{"n":"G","g":"Non-cirrhotic HCV","v":1.0,"s":4},{"n":"G","g":"Non-cirrhotic HCV","v":0.8,"s":13},{"n":"G","g":"Non-cirrhotic HCV","v":0.7,"s":9},{"n":"G","g":"Non-cirrhotic HCV","v":0.6,"s":2},{"n":"G","g":"Non-cirrhotic HCV","v":0.5,"s":11},
{"n":"H","g":"Healthy","v":61,"s":5},{"n":"H","g":"Healthy","v":60,"s":11},{"n":"H","g":"Healthy","v":55,"s":8},{"n":"H","g":"Healthy","v":50,"s":13},{"n":"H","g":"Healthy","v":44,"s":4},{"n":"H","g":"Healthy","v":42,"s":10},{"n":"H","g":"Healthy","v":40,"s":14},{"n":"H","g":"Healthy","v":38,"s":6},{"n":"H","g":"Healthy","v":35,"s":9},{"n":"H","g":"Healthy","v":32,"s":3},{"n":"H","g":"Healthy","v":30,"s":12},{"n":"H","g":"Healthy","v":28,"s":7},{"n":"H","g":"Healthy","v":27,"s":10},
{"n":"H","g":"Cirrhotic non-HCV","v":67,"s":9},{"n":"H","g":"Cirrhotic non-HCV","v":62,"s":5},{"n":"H","g":"Cirrhotic non-HCV","v":58,"s":12},{"n":"H","g":"Cirrhotic non-HCV","v":55,"s":3},{"n":"H","g":"Cirrhotic non-HCV","v":52,"s":14},{"n":"H","g":"Cirrhotic non-HCV","v":50,"s":8},{"n":"H","g":"Cirrhotic non-HCV","v":48,"s":11},{"n":"H","g":"Cirrhotic non-HCV","v":45,"s":4},{"n":"H","g":"Cirrhotic non-HCV","v":43,"s":13},{"n":"H","g":"Cirrhotic non-HCV","v":40,"s":7},{"n":"H","g":"Cirrhotic non-HCV","v":37,"s":10},{"n":"H","g":"Cirrhotic non-HCV","v":33,"s":5},{"n":"H","g":"Cirrhotic non-HCV","v":28,"s":9},
{"n":"H","g":"Cirrhotic HCV","v":79,"s":8},{"n":"H","g":"Cirrhotic HCV","v":72,"s":5},{"n":"H","g":"Cirrhotic HCV","v":70,"s":12},{"n":"H","g":"Cirrhotic HCV","v":68,"s":3},{"n":"H","g":"Cirrhotic HCV","v":66,"s":10},{"n":"H","g":"Cirrhotic HCV","v":64,"s":14},{"n":"H","g":"Cirrhotic HCV","v":62,"s":6},{"n":"H","g":"Cirrhotic HCV","v":60,"s":9},{"n":"H","g":"Cirrhotic HCV","v":58,"s":13},{"n":"H","g":"Cirrhotic HCV","v":56,"s":4},{"n":"H","g":"Cirrhotic HCV","v":53,"s":11},{"n":"H","g":"Cirrhotic HCV","v":50,"s":7},{"n":"H","g":"Cirrhotic HCV","v":45,"s":14},{"n":"H","g":"Cirrhotic HCV","v":40,"s":3},{"n":"H","g":"Cirrhotic HCV","v":33,"s":10},{"n":"H","g":"Cirrhotic HCV","v":23,"s":8},
{"n":"H","g":"Non-cirrhotic HCV","v":62,"s":10},{"n":"H","g":"Non-cirrhotic HCV","v":48,"s":6},{"n":"H","g":"Non-cirrhotic HCV","v":44,"s":12},{"n":"H","g":"Non-cirrhotic HCV","v":40,"s":4},{"n":"H","g":"Non-cirrhotic HCV","v":37,"s":9},{"n":"H","g":"Non-cirrhotic HCV","v":35,"s":14},{"n":"H","g":"Non-cirrhotic HCV","v":33,"s":7},{"n":"H","g":"Non-cirrhotic HCV","v":30,"s":11},{"n":"H","g":"Non-cirrhotic HCV","v":28,"s":3},{"n":"H","g":"Non-cirrhotic HCV","v":26,"s":13},{"n":"H","g":"Non-cirrhotic HCV","v":25,"s":8},{"n":"H","g":"Non-cirrhotic HCV","v":23,"s":5},{"n":"H","g":"Non-cirrhotic HCV","v":18,"s":11},
{"n":"I","g":"Healthy","v":75,"s":9},{"n":"I","g":"Healthy","v":66,"s":5},{"n":"I","g":"Healthy","v":60,"s":12},{"n":"I","g":"Healthy","v":50,"s":8},{"n":"I","g":"Healthy","v":42,"s":13},{"n":"I","g":"Healthy","v":38,"s":6},{"n":"I","g":"Healthy","v":33,"s":10},{"n":"I","g":"Healthy","v":28,"s":4},{"n":"I","g":"Healthy","v":20,"s":11},{"n":"I","g":"Healthy","v":14,"s":7},{"n":"I","g":"Healthy","v":10,"s":9},
{"n":"I","g":"Cirrhotic non-HCV","v":98,"s":8},{"n":"I","g":"Cirrhotic non-HCV","v":52,"s":5},{"n":"I","g":"Cirrhotic non-HCV","v":50,"s":11},{"n":"I","g":"Cirrhotic non-HCV","v":45,"s":13},{"n":"I","g":"Cirrhotic non-HCV","v":38,"s":8},{"n":"I","g":"Cirrhotic non-HCV","v":32,"s":4},{"n":"I","g":"Cirrhotic non-HCV","v":30,"s":12},{"n":"I","g":"Cirrhotic non-HCV","v":28,"s":7},{"n":"I","g":"Cirrhotic non-HCV","v":25,"s":14},{"n":"I","g":"Cirrhotic non-HCV","v":22,"s":10},{"n":"I","g":"Cirrhotic non-HCV","v":20,"s":3},{"n":"I","g":"Cirrhotic non-HCV","v":18,"s":9},{"n":"I","g":"Cirrhotic non-HCV","v":15,"s":6},
{"n":"I","g":"Cirrhotic HCV","v":65,"s":11},{"n":"I","g":"Cirrhotic HCV","v":48,"s":8},{"n":"I","g":"Cirrhotic HCV","v":33,"s":9},{"n":"I","g":"Cirrhotic HCV","v":22,"s":12},{"n":"I","g":"Cirrhotic HCV","v":18,"s":4},{"n":"I","g":"Cirrhotic HCV","v":15,"s":14},{"n":"I","g":"Cirrhotic HCV","v":13,"s":7},{"n":"I","g":"Cirrhotic HCV","v":12,"s":10},{"n":"I","g":"Cirrhotic HCV","v":11,"s":3},{"n":"I","g":"Cirrhotic HCV","v":10,"s":13},{"n":"I","g":"Cirrhotic HCV","v":9,"s":6},{"n":"I","g":"Cirrhotic HCV","v":8,"s":11},{"n":"I","g":"Cirrhotic HCV","v":7,"s":2},{"n":"I","g":"Cirrhotic HCV","v":6,"s":9},{"n":"I","g":"Cirrhotic HCV","v":5,"s":14},
{"n":"I","g":"Non-cirrhotic HCV","v":44,"s":9},{"n":"I","g":"Non-cirrhotic HCV","v":42,"s":5},{"n":"I","g":"Non-cirrhotic HCV","v":40,"s":12},{"n":"I","g":"Non-cirrhotic HCV","v":38,"s":3},{"n":"I","g":"Non-cirrhotic HCV","v":35,"s":14},{"n":"I","g":"Non-cirrhotic HCV","v":32,"s":7},{"n":"I","g":"Non-cirrhotic HCV","v":30,"s":10},{"n":"I","g":"Non-cirrhotic HCV","v":28,"s":4},{"n":"I","g":"Non-cirrhotic HCV","v":25,"s":13},{"n":"I","g":"Non-cirrhotic HCV","v":22,"s":8},{"n":"I","g":"Non-cirrhotic HCV","v":20,"s":11},{"n":"I","g":"Non-cirrhotic HCV","v":18,"s":3},{"n":"I","g":"Non-cirrhotic HCV","v":15,"s":6},{"n":"I","g":"Non-cirrhotic HCV","v":12,"s":12},{"n":"I","g":"Non-cirrhotic HCV","v":10,"s":9}
],
"ann": [
{"n":"B","a":"Healthy","b":"Non-cirrhotic HCV","k":"T","lv":96.2,"t":"n.s."},
{"n":"B","a":"Healthy","b":"Cirrhotic HCV","k":"M","lv":68.7,"t":"P=.01"},
{"n":"B","a":"Cirrhotic non-HCV","b":"Cirrhotic HCV","k":"l","lv":32.1,"t":"P=.02"},
{"n":"B","a":"Cirrhotic HCV","b":"Non-cirrhotic HCV","k":"r","lv":32.1,"t":"P=.03"},
{"n":"C","a":"Healthy","b":"Non-cirrhotic HCV","k":"T","lv":7.6,"t":"P=.0007"},
{"n":"C","a":"Healthy","b":"Cirrhotic HCV","k":"M","lv":6.62,"t":"P<.0001"},
{"n":"C","a":"Cirrhotic non-HCV","b":"Cirrhotic HCV","k":"l","lv":5.69,"t":"P=.002"},
{"n":"C","a":"Cirrhotic HCV","b":"Non-cirrhotic HCV","k":"r","lv":5.69,"t":"P=.008"},
{"n":"G","a":"Healthy","b":"Non-cirrhotic HCV","k":"T","lv":15.2,"t":"n.s."},
{"n":"G","a":"Healthy","b":"Cirrhotic HCV","k":"M","lv":12.75,"t":"P=.002"},
{"n":"G","a":"Cirrhotic non-HCV","b":"Cirrhotic HCV","k":"l","lv":10.6,"t":"P=.005"},
{"n":"G","a":"Cirrhotic HCV","b":"Non-cirrhotic HCV","k":"r","lv":10.6,"t":"P=.0004"},
{"n":"H","a":"Healthy","b":"Non-cirrhotic HCV","k":"T","lv":117.3,"t":"n.s."},
{"n":"H","a":"Healthy","b":"Cirrhotic HCV","k":"M","lv":100.3,"t":"P=.01"},
{"n":"H","a":"Cirrhotic non-HCV","b":"Cirrhotic HCV","k":"l","lv":83.4,"t":"n.s."},
{"n":"H","a":"Cirrhotic HCV","b":"Non-cirrhotic HCV","k":"r","lv":83.4,"t":"P=.0009"},
{"n":"I","a":"Healthy","b":"Non-cirrhotic HCV","k":"T","lv":141.1,"t":"n.s."},
{"n":"I","a":"Healthy","b":"Cirrhotic HCV","k":"M","lv":125.8,"t":"P=.02"},
{"n":"I","a":"Cirrhotic non-HCV","b":"Cirrhotic HCV","k":"l","lv":108.9,"t":"P=.008"},
{"n":"I","a":"Cirrhotic HCV","b":"Non-cirrhotic HCV","k":"r","lv":108.9,"t":"P=.02"},
{"n":"D","a":"B","b":"FU48","c":"_20","lv":36.5,"t":"P=.01"},
{"n":"E1","a":"B","b":"FU48","c":"_20","lv":5.9,"t":"P<.0001"},
{"n":"E1","a":"FU48","b":"H","c":"_40","lv":5.9,"t":"P=.0009"},
{"n":"E2","a":"B","b":"FU48","c":"_20","lv":5.3,"t":"P<.0001"},
{"n":"GL","a":"B","b":"FU48","c":"_20","lv":14.28,"t":"P<.0001"},
{"n":"HL","a":"B","b":"FU12","c":"_11","lv":90.1,"t":"P=.02"},
{"n":"IL","a":"B","b":"FU12","c":"_11","lv":105.4,"t":"P=.03"}
],
"pts": [
{"n":"D","i":"d1","t":"B","v":24.5},{"n":"D","i":"d1","t":"W4","v":10.5},{"n":"D","i":"d1","t":"FU12","v":17.8},{"n":"D","i":"d1","t":"FU48","v":8.5},
{"n":"D","i":"d2","t":"B","v":17.5},{"n":"D","i":"d2","t":"W4","v":19.7},{"n":"D","i":"d2","t":"FU12","v":16.5},{"n":"D","i":"d2","t":"FU48","v":7},
{"n":"D","i":"d3","t":"B","v":17},{"n":"D","i":"d3","t":"W4","v":5},{"n":"D","i":"d3","t":"FU12","v":6},{"n":"D","i":"d3","t":"FU48","v":14.5},
{"n":"D","i":"d4","t":"B","v":16.5},{"n":"D","i":"d4","t":"W4","v":8},{"n":"D","i":"d4","t":"FU12","v":15.2},{"n":"D","i":"d4","t":"FU48","v":6},
{"n":"D","i":"d5","t":"B","v":15.5},{"n":"D","i":"d5","t":"W4","v":7},{"n":"D","i":"d5","t":"FU12","v":11},{"n":"D","i":"d5","t":"FU48","v":5},
{"n":"D","i":"d6","t":"B","v":14},{"n":"D","i":"d6","t":"W4","v":11},{"n":"D","i":"d6","t":"FU12","v":10},{"n":"D","i":"d6","t":"FU48","v":9},
{"n":"D","i":"d7","t":"B","v":13},{"n":"D","i":"d7","t":"W4","v":15.2},{"n":"D","i":"d7","t":"FU12","v":9},{"n":"D","i":"d7","t":"FU48","v":7.5},
{"n":"D","i":"d8","t":"B","v":10},{"n":"D","i":"d8","t":"W4","v":4},{"n":"D","i":"d8","t":"FU12","v":17},{"n":"D","i":"d8","t":"FU48","v":6.5},
{"n":"D","i":"d9","t":"B","v":9.5},{"n":"D","i":"d9","t":"W4","v":9},{"n":"D","i":"d9","t":"FU12","v":5.5},{"n":"D","i":"d9","t":"FU48","v":1.5},
{"n":"D","i":"d10","t":"B","v":7},{"n":"D","i":"d10","t":"W4","v":3.5},{"n":"D","i":"d10","t":"FU12","v":8},{"n":"D","i":"d10","t":"FU48","v":8},
{"n":"D","i":"d11","t":"B","v":6},{"n":"D","i":"d11","t":"W4","v":6},{"n":"D","i":"d11","t":"FU12","v":2.5},{"n":"D","i":"d11","t":"FU48","v":5.5},
{"n":"D","i":"d12","t":"B","v":1.5},{"n":"D","i":"d12","t":"W4","v":6.5},{"n":"D","i":"d12","t":"FU12","v":12},{"n":"D","i":"d12","t":"FU48","v":4.5},
{"n":"D","i":"d13","t":"B","v":0.5},{"n":"D","i":"d13","t":"W4","v":9.5},{"n":"D","i":"d13","t":"FU12","v":7},
{"n":"D","i":"d14","t":"W4","v":5.5},{"n":"D","i":"d14","t":"FU12","v":10.5},
{"n":"D","i":"h1","t":"H","v":16.8},{"n":"D","i":"h2","t":"H","v":10.3},{"n":"D","i":"h3","t":"H","v":9.5},{"n":"D","i":"h4","t":"H","v":8.5},{"n":"D","i":"h5","t":"H","v":5.2},{"n":"D","i":"h6","t":"H","v":0.1},
{"n":"E1","i":"e1","t":"B","v":4.3},{"n":"E1","i":"e1","t":"W4","v":3.4},{"n":"E1","i":"e1","t":"FU12","v":4.6},{"n":"E1","i":"e1","t":"FU48","v":3.2},
{"n":"E1","i":"e2","t":"B","v":4.1},{"n":"E1","i":"e2","t":"W4","v":2.9},{"n":"E1","i":"e2","t":"FU12","v":2.3},{"n":"E1","i":"e2","t":"FU48","v":2.0},
{"n":"E1","i":"e3","t":"B","v":3.1},{"n":"E1","i":"e3","t":"W4","v":2.5},{"n":"E1","i":"e3","t":"FU12","v":4.3},{"n":"E1","i":"e3","t":"FU48","v":2.5},
{"n":"E1","i":"e4","t":"B","v":2.9},{"n":"E1","i":"e4","t":"W4","v":1.5},{"n":"E1","i":"e4","t":"FU12","v":1.0},{"n":"E1","i":"e4","t":"FU48","v":1.4},
{"n":"E1","i":"e5","t":"B","v":2.7},{"n":"E1","i":"e5","t":"W4","v":2.3},{"n":"E1","i":"e5","t":"FU12","v":2.2},{"n":"E1","i":"e5","t":"FU48","v":2.1},
{"n":"E1","i":"e6","t":"B","v":2.5},{"n":"E1","i":"e6","t":"W4","v":0.5},{"n":"E1","i":"e6","t":"FU12","v":1.8},{"n":"E1","i":"e6","t":"FU48","v":1.8},
{"n":"E1","i":"e7","t":"B","v":2.3},{"n":"E1","i":"e7","t":"W4","v":2.0},{"n":"E1","i":"e7","t":"FU12","v":1.3},{"n":"E1","i":"e7","t":"FU48","v":1.6},
{"n":"E1","i":"e8","t":"B","v":2.1},{"n":"E1","i":"e8","t":"W4","v":1.2},{"n":"E1","i":"e8","t":"FU12","v":3.6},{"n":"E1","i":"e8","t":"FU48","v":1.2},
{"n":"E1","i":"e9","t":"B","v":2.0},{"n":"E1","i":"e9","t":"W4","v":1.7},{"n":"E1","i":"e9","t":"FU12","v":0.8},{"n":"E1","i":"e9","t":"FU48","v":1.0},
{"n":"E1","i":"e10","t":"B","v":1.8},{"n":"E1","i":"e10","t":"W4","v":1.0},{"n":"E1","i":"e10","t":"FU12","v":1.2},{"n":"E1","i":"e10","t":"FU48","v":0.8},
{"n":"E1","i":"e11","t":"B","v":1.5},{"n":"E1","i":"e11","t":"W4","v":1.4},{"n":"E1","i":"e11","t":"FU12","v":2.3},{"n":"E1","i":"e11","t":"FU48","v":0.7},
{"n":"E1","i":"e12","t":"B","v":1.3},{"n":"E1","i":"e12","t":"W4","v":0.5},{"n":"E1","i":"e12","t":"FU12","v":0.5},{"n":"E1","i":"e12","t":"FU48","v":1.5},
{"n":"E1","i":"e13","t":"B","v":1.0},{"n":"E1","i":"e13","t":"W4","v":2.2},{"n":"E1","i":"e13","t":"FU12","v":4.5},
{"n":"E1","i":"e14","t":"B","v":0.8},{"n":"E1","i":"e14","t":"W4","v":1.8},{"n":"E1","i":"e14","t":"FU12","v":1.0},
{"n":"E1","i":"h1","t":"H","v":1.6},{"n":"E1","i":"h2","t":"H","v":1.2},{"n":"E1","i":"h3","t":"H","v":1.0},{"n":"E1","i":"h4","t":"H","v":0.9},{"n":"E1","i":"h5","t":"H","v":0.6},{"n":"E1","i":"h6","t":"H","v":0.4},{"n":"E1","i":"h7","t":"H","v":0.02},
{"n":"E2","i":"r1","t":"B","v":2.5},{"n":"E2","i":"r1","t":"W4","v":1.9},{"n":"E2","i":"r1","t":"FU12","v":2.1},{"n":"E2","i":"r1","t":"FU48","v":0.8},
{"n":"E2","i":"r2","t":"B","v":2.0},{"n":"E2","i":"r2","t":"W4","v":1.85},{"n":"E2","i":"r2","t":"FU12","v":2.0},{"n":"E2","i":"r2","t":"FU48","v":0.7},
{"n":"E2","i":"r3","t":"B","v":1.9},{"n":"E2","i":"r3","t":"W4","v":1.5},{"n":"E2","i":"r3","t":"FU12","v":1.9},{"n":"E2","i":"r3","t":"FU48","v":0.6},
{"n":"E2","i":"r4","t":"B","v":1.8},{"n":"E2","i":"r4","t":"W4","v":1.7},{"n":"E2","i":"r4","t":"FU12","v":1.2},{"n":"E2","i":"r4","t":"FU48","v":0.5},
{"n":"E2","i":"r5","t":"B","v":1.6},{"n":"E2","i":"r5","t":"W4","v":1.4},{"n":"E2","i":"r5","t":"FU12","v":1.6},{"n":"E2","i":"r5","t":"FU48","v":0.4},
{"n":"E2","i":"r6","t":"B","v":1.5},{"n":"E2","i":"r6","t":"W4","v":1.3},{"n":"E2","i":"r6","t":"FU12","v":1.0},{"n":"E2","i":"r6","t":"FU48","v":0.3},
{"n":"E2","i":"r7","t":"B","v":1.3},{"n":"E2","i":"r7","t":"W4","v":1.2},{"n":"E2","i":"r7","t":"FU12","v":1.5},{"n":"E2","i":"r7","t":"FU48","v":0.2},
{"n":"E2","i":"r8","t":"B","v":1.2},{"n":"E2","i":"r8","t":"W4","v":1.0},{"n":"E2","i":"r8","t":"FU12","v":1.3},{"n":"E2","i":"r8","t":"FU48","v":0.1},
{"n":"E2","i":"r9","t":"B","v":1.0},{"n":"E2","i":"r9","t":"W4","v":0.8},{"n":"E2","i":"r9","t":"FU12","v":0.9},{"n":"E2","i":"r9","t":"FU48","v":0.05},
{"n":"E2","i":"r10","t":"B","v":0.8},{"n":"E2","i":"r10","t":"W4","v":1.6},{"n":"E2","i":"r10","t":"FU12","v":0.8},{"n":"E2","i":"r10","t":"FU48","v":0.35},
{"n":"E2","i":"r11","t":"B","v":0.5},{"n":"E2","i":"r11","t":"W4","v":1.4},{"n":"E2","i":"r11","t":"FU12","v":1.2},{"n":"E2","i":"r11","t":"FU48","v":0.6},
{"n":"E2","i":"h1","t":"H","v":1.6},{"n":"E2","i":"h2","t":"H","v":1.1},{"n":"E2","i":"h3","t":"H","v":1.0},{"n":"E2","i":"h4","t":"H","v":0.9},{"n":"E2","i":"h5","t":"H","v":0.6},{"n":"E2","i":"h6","t":"H","v":0.5},{"n":"E2","i":"h7","t":"H","v":0.02},
{"n":"GL","i":"g1","t":"B","v":9.2},{"n":"GL","i":"g1","t":"W4","v":13.0},{"n":"GL","i":"g1","t":"FU12","v":7.3},{"n":"GL","i":"g1","t":"FU48","v":5.5},
{"n":"GL","i":"g2","t":"B","v":8.5},{"n":"GL","i":"g2","t":"W4","v":12.7},{"n":"GL","i":"g2","t":"FU12","v":5.8},{"n":"GL","i":"g2","t":"FU48","v":5.0},
{"n":"GL","i":"g3","t":"B","v":8.0},{"n":"GL","i":"g3","t":"W4","v":10.5},{"n":"GL","i":"g3","t":"FU12","v":3.5},{"n":"GL","i":"g3","t":"FU48","v":3.5},
{"n":"GL","i":"g4","t":"B","v":7.5},{"n":"GL","i":"g4","t":"W4","v":6.5},{"n":"GL","i":"g4","t":"FU12","v":5.6},{"n":"GL","i":"g4","t":"FU48","v":3.0},
{"n":"GL","i":"g5","t":"B","v":6.5},{"n":"GL","i":"g5","t":"W4","v":6.2},{"n":"GL","i":"g5","t":"FU12","v":3.0},{"n":"GL","i":"g5","t":"FU48","v":2.5},
{"n":"GL","i":"g6","t":"B","v":5.8},{"n":"GL","i":"g6","t":"W4","v":5.0},{"n":"GL","i":"g6","t":"FU12","v":2.8},{"n":"GL","i":"g6","t":"FU48","v":2.2},
{"n":"GL","i":"g7","t":"B","v":5.0},{"n":"GL","i":"g7","t":"W4","v":4.6},{"n":"GL","i":"g7","t":"FU12","v":2.4},{"n":"GL","i":"g7","t":"FU48","v":1.9},
{"n":"GL","i":"g8","t":"B","v":4.5},{"n":"GL","i":"g8","t":"W4","v":3.8},{"n":"GL","i":"g8","t":"FU12","v":2.0},{"n":"GL","i":"g8","t":"FU48","v":1.5},
{"n":"GL","i":"g9","t":"B","v":3.7},{"n":"GL","i":"g9","t":"W4","v":3.3},{"n":"GL","i":"g9","t":"FU12","v":1.8},{"n":"GL","i":"g9","t":"FU48","v":3.0},
{"n":"GL","i":"g10","t":"B","v":2.8},{"n":"GL","i":"g10","t":"W4","v":2.6},{"n":"GL","i":"g10","t":"FU12","v":1.6},{"n":"GL","i":"g10","t":"FU48","v":1.1},
{"n":"GL","i":"g11","t":"B","v":2.3},{"n":"GL","i":"g11","t":"W4","v":2.0},{"n":"GL","i":"g11","t":"FU12","v":1.4},{"n":"GL","i":"g11","t":"FU48","v":0.8},
{"n":"GL","i":"g12","t":"B","v":1.7},{"n":"GL","i":"g12","t":"W4","v":1.8},{"n":"GL","i":"g12","t":"FU12","v":1.3},{"n":"GL","i":"g12","t":"FU48","v":2.5},
{"n":"GL","i":"g13","t":"B","v":1.4},{"n":"GL","i":"g13","t":"W4","v":1.5},{"n":"GL","i":"g13","t":"FU12","v":3.3},
{"n":"GL","i":"g14","t":"B","v":1.0},{"n":"GL","i":"g14","t":"W4","v":1.2},
{"n":"GL","i":"g15","t":"B","v":0.9},
{"n":"GL","i":"h1","t":"H","v":3.0},{"n":"GL","i":"h2","t":"H","v":2.7},{"n":"GL","i":"h3","t":"H","v":2.3},{"n":"GL","i":"h4","t":"H","v":2.0},{"n":"GL","i":"h5","t":"H","v":1.7},{"n":"GL","i":"h6","t":"H","v":1.3},{"n":"GL","i":"h7","t":"H","v":0.9},{"n":"GL","i":"h8","t":"H","v":0.6},
{"n":"HL","i":"k1","t":"B","v":78},{"n":"HL","i":"k1","t":"W4","v":81},{"n":"HL","i":"k1","t":"FU12","v":62},{"n":"HL","i":"k1","t":"FU48","v":74},
{"n":"HL","i":"k2","t":"B","v":70},{"n":"HL","i":"k2","t":"W4","v":78},{"n":"HL","i":"k2","t":"FU12","v":73},{"n":"HL","i":"k2","t":"FU48","v":65},
{"n":"HL","i":"k3","t":"B","v":67},{"n":"HL","i":"k3","t":"W4","v":68},{"n":"HL","i":"k3","t":"FU12","v":58},{"n":"HL","i":"k3","t":"FU48","v":58},
{"n":"HL","i":"k4","t":"B","v":63},{"n":"HL","i":"k4","t":"W4","v":62},{"n":"HL","i":"k4","t":"FU12","v":55},{"n":"HL","i":"k4","t":"FU48","v":55},
{"n":"HL","i":"k5","t":"B","v":60},{"n":"HL","i":"k5","t":"W4","v":60},{"n":"HL","i":"k5","t":"FU12","v":53},{"n":"HL","i":"k5","t":"FU48","v":50},
{"n":"HL","i":"k6","t":"B","v":58},{"n":"HL","i":"k6","t":"W4","v":57},{"n":"HL","i":"k6","t":"FU12","v":50},{"n":"HL","i":"k6","t":"FU48","v":45},
{"n":"HL","i":"k7","t":"B","v":55},{"n":"HL","i":"k7","t":"W4","v":54},{"n":"HL","i":"k7","t":"FU12","v":48},{"n":"HL","i":"k7","t":"FU48","v":42},
{"n":"HL","i":"k8","t":"B","v":50},{"n":"HL","i":"k8","t":"W4","v":50},{"n":"HL","i":"k8","t":"FU12","v":45},{"n":"HL","i":"k8","t":"FU48","v":38},
{"n":"HL","i":"k9","t":"B","v":47},{"n":"HL","i":"k9","t":"W4","v":46},{"n":"HL","i":"k9","t":"FU12","v":42},{"n":"HL","i":"k9","t":"FU48","v":36},
{"n":"HL","i":"k10","t":"B","v":32},{"n":"HL","i":"k10","t":"W4","v":40},{"n":"HL","i":"k10","t":"FU12","v":37},{"n":"HL","i":"k10","t":"FU48","v":34},
{"n":"HL","i":"k11","t":"B","v":23},{"n":"HL","i":"k11","t":"W4","v":21},{"n":"HL","i":"k11","t":"FU12","v":16},{"n":"HL","i":"k11","t":"FU48","v":17},
{"n":"HL","i":"k12","t":"W4","v":35},{"n":"HL","i":"k12","t":"FU12","v":40},
{"n":"HL","i":"k13","t":"W4","v":27},{"n":"HL","i":"k13","t":"FU12","v":33},
{"n":"HL","i":"h1","t":"H","v":61},{"n":"HL","i":"h2","t":"H","v":58},{"n":"HL","i":"h3","t":"H","v":52},{"n":"HL","i":"h4","t":"H","v":48},{"n":"HL","i":"h5","t":"H","v":45},{"n":"HL","i":"h6","t":"H","v":40},{"n":"HL","i":"h7","t":"H","v":35},{"n":"HL","i":"h8","t":"H","v":30},{"n":"HL","i":"h9","t":"H","v":28},
{"n":"IL","i":"i1","t":"B","v":65},{"n":"IL","i":"i1","t":"W4","v":45},{"n":"IL","i":"i1","t":"FU12","v":30},{"n":"IL","i":"i1","t":"FU48","v":22},
{"n":"IL","i":"i2","t":"B","v":48},{"n":"IL","i":"i2","t":"W4","v":35},{"n":"IL","i":"i2","t":"FU12","v":25},{"n":"IL","i":"i2","t":"FU48","v":20},
{"n":"IL","i":"i3","t":"B","v":38},{"n":"IL","i":"i3","t":"W4","v":25},{"n":"IL","i":"i3","t":"FU12","v":46},{"n":"IL","i":"i3","t":"FU48","v":95},
{"n":"IL","i":"i4","t":"B","v":21},{"n":"IL","i":"i4","t":"W4","v":18},{"n":"IL","i":"i4","t":"FU12","v":45},{"n":"IL","i":"i4","t":"FU48","v":85},
{"n":"IL","i":"i5","t":"B","v":18},{"n":"IL","i":"i5","t":"W4","v":15},{"n":"IL","i":"i5","t":"FU12","v":35},{"n":"IL","i":"i5","t":"FU48","v":38},
{"n":"IL","i":"i6","t":"B","v":15},{"n":"IL","i":"i6","t":"W4","v":12},{"n":"IL","i":"i6","t":"FU12","v":20},{"n":"IL","i":"i6","t":"FU48","v":35},
{"n":"IL","i":"i7","t":"B","v":13},{"n":"IL","i":"i7","t":"W4","v":10},{"n":"IL","i":"i7","t":"FU12","v":18},{"n":"IL","i":"i7","t":"FU48","v":30},
{"n":"IL","i":"i8","t":"B","v":12},{"n":"IL","i":"i8","t":"W4","v":8},{"n":"IL","i":"i8","t":"FU12","v":15},{"n":"IL","i":"i8","t":"FU48","v":28},
{"n":"IL","i":"i9","t":"B","v":10},{"n":"IL","i":"i9","t":"W4","v":7},{"n":"IL","i":"i9","t":"FU12","v":12},{"n":"IL","i":"i9","t":"FU48","v":15},
{"n":"IL","i":"i10","t":"B","v":8},{"n":"IL","i":"i10","t":"W4","v":6},{"n":"IL","i":"i10","t":"FU12","v":10},{"n":"IL","i":"i10","t":"FU48","v":12},
{"n":"IL","i":"i11","t":"B","v":6},{"n":"IL","i":"i11","t":"W4","v":5},{"n":"IL","i":"i11","t":"FU12","v":8},{"n":"IL","i":"i11","t":"FU48","v":10},
{"n":"IL","i":"i12","t":"B","v":5},{"n":"IL","i":"i12","t":"FU12","v":7},{"n":"IL","i":"i12","t":"FU48","v":8},
{"n":"IL","i":"h1","t":"H","v":75},{"n":"IL","i":"h2","t":"H","v":67},{"n":"IL","i":"h3","t":"H","v":50},{"n":"IL","i":"h4","t":"H","v":42},{"n":"IL","i":"h5","t":"H","v":38},{"n":"IL","i":"h6","t":"H","v":33},{"n":"IL","i":"h7","t":"H","v":30},{"n":"IL","i":"h8","t":"H","v":20},{"n":"IL","i":"h9","t":"H","v":15},{"n":"IL","i":"h10","t":"H","v":10}
]
},
"vconcat": [
{
 "hconcat": [
  {"width":56,"height":345,"data":{"name":"one"},"mark":{"type":"point","opacity":0},"encoding":{}},
  {"width":117,"height":277,"resolve":{"scale":{"y":"independent"}},"layer":[
   {"layer":[
    {"data":{"name":"one"},"mark":{"type":"rect","filled":false,"color":"#404040","strokeWidth":1.2},"encoding":{"x":{"datum":0,"type":"quantitative","scale":{"domain":[0,100],"range":[0,92],"nice":false,"zero":false},"axis":null},"x2":{"datum":100},"y":{"datum":0,"type":"quantitative","scale":{"domain":[0,100],"range":[128,36],"nice":false,"zero":false},"axis":null},"y2":{"datum":100}}},
    {"data":{"name":"one"},"mark":{"type":"rule","color":"#404040","strokeWidth":1},"encoding":{"x":{"datum":27,"type":"quantitative","axis":null},"y":{"datum":0,"type":"quantitative","axis":null},"y2":{"datum":100}}},
    {"data":{"name":"one"},"mark":{"type":"rule","color":"#404040","strokeWidth":1},"encoding":{"x":{"datum":0,"type":"quantitative","axis":null},"x2":{"datum":100},"y":{"datum":63,"type":"quantitative","axis":null}}},
    {"data":{"name":"flow"},"transform":[{"filter":"datum.p=='A1'"}],"mark":{"type":"square","size":9,"opacity":1},"encoding":{"x":{"field":"x","type":"quantitative","axis":null},"y":{"field":"y","type":"quantitative","axis":null},"color":{"field":"d","type":"ordinal","scale":{"domain":[0,1,2,3,4],"range":["#1414ff","#3c78ff","#18c040","#f2e200","#ff2200"]},"legend":null},"order":{"field":"d","type":"quantitative"}}},
    {"data":{"name":"one"},"mark":{"type":"text","align":"right","baseline":"middle","fontSize":11.5,"color":"#333"},"encoding":{"x":{"datum":96,"type":"quantitative","axis":null},"y":{"datum":92,"type":"quantitative","axis":null},"text":{"value":"5.3%"}}},
    {"data":{"name":"one"},"mark":{"type":"text","align":"right","baseline":"middle","fontSize":11.5,"color":"#333"},"encoding":{"x":{"datum":96,"type":"quantitative","axis":null},"y":{"datum":7,"type":"quantitative","axis":null},"text":{"value":"1.6%"}}},
    {"data":{"name":"one"},"mark":{"type":"text","align":"center","baseline":"alphabetic","fontSize":14,"color":"#0070C0","lineHeight":17},"encoding":{"x":{"datum":50,"type":"quantitative","axis":null},"y":{"datum":108.7,"type":"quantitative","axis":null},"text":{"value":["Healthy"]}}},
    {"data":{"name":"one"},"mark":{"type":"rule","color":"black","strokeWidth":2},"encoding":{"x":{"datum":-12,"type":"quantitative","axis":null},"y":{"datum":41,"type":"quantitative","axis":null},"y2":{"datum":90}}},
    {"data":{"name":"one"},"mark":{"type":"point","shape":"triangle-up","filled":true,"size":110,"color":"black","opacity":1},"encoding":{"x":{"datum":-12,"type":"quantitative","axis":null},"y":{"datum":93.5,"type":"quantitative","axis":null}}},
    {"data":{"name":"one"},"mark":{"type":"text","angle":270,"align":"center","baseline":"middle","fontSize":11.5,"color":"#333"},"encoding":{"x":{"datum":-16.3,"type":"quantitative","axis":null},"y":{"datum":16.8,"type":"quantitative","axis":null},"text":{"value":"CD56"}}},
    {"data":{"name":"one"},"mark":{"type":"rule","color":"black","strokeWidth":2},"encoding":{"x":{"datum":44.6,"type":"quantitative","axis":null},"x2":{"datum":92.4},"y":{"datum":-11.4,"type":"quantitative","axis":null}}},
    {"data":{"name":"one"},"mark":{"type":"point","shape":"triangle-right","filled":true,"size":110,"color":"black","opacity":1},"encoding":{"x":{"datum":96.7,"type":"quantitative","axis":null},"y":{"datum":-11.4,"type":"quantitative","axis":null}}},
    {"data":{"name":"one"},"mark":{"type":"text","align":"left","baseline":"middle","fontSize":11.5,"color":"#333"},"encoding":{"x":{"datum":2.2,"type":"quantitative","axis":null},"y":{"datum":-11.4,"type":"quantitative","axis":null},"text":{"value":"TRAIL"}}},
    {"data":{"name":"one"},"mark":{"type":"text","align":"center","baseline":"middle","fontSize":20,"fontWeight":"bold","color":"black"},"encoding":{"x":{"datum":-29.3,"type":"quantitative","axis":null},"y":{"datum":122.8,"type":"quantitative","axis":null},"text":{"value":"A"}}}
   ]},
   {"layer":[
    {"data":{"name":"one"},"mark":{"type":"rect","filled":false,"color":"#404040","strokeWidth":1.2},"encoding":{"x":{"datum":0,"type":"quantitative","axis":null},"x2":{"datum":100},"y":{"datum":0,"type":"quantitative","scale":{"domain":[0,100],"range":[277,185],"nice":false,"zero":false},"axis":null},"y2":{"datum":100}}},
    {"data":{"name":"one"},"mark":{"type":"rule","color":"#404040","strokeWidth":1},"encoding":{"x":{"datum":27,"type":"quantitative","axis":null},"y":{"datum":0,"type":"quantitative","axis":null},"y2":{"datum":100}}},
    {"data":{"name":"one"},"mark":{"type":"rule","color":"#404040","strokeWidth":1},"encoding":{"x":{"datum":0,"type":"quantitative","axis":null},"x2":{"datum":100},"y":{"datum":62,"type":"quantitative","axis":null}}},
    {"data":{"name":"flow"},"transform":[{"filter":"datum.p=='A3'"}],"mark":{"type":"square","size":9,"opacity":1},"encoding":{"x":{"field":"x","type":"quantitative","axis":null},"y":{"field":"y","type":"quantitative","axis":null},"color":{"field":"d","type":"ordinal","scale":{"domain":[0,1,2,3,4],"range":["#1414ff","#3c78ff","#18c040","#f2e200","#ff2200"]},"legend":null},"order":{"field":"d","type":"quantitative"}}},
    {"data":{"name":"one"},"mark":{"type":"text","align":"right","baseline":"middle","fontSize":11.5,"color":"#333"},"encoding":{"x":{"datum":96,"type":"quantitative","axis":null},"y":{"datum":92,"type":"quantitative","axis":null},"text":{"value":"13.4%"}}},
    {"data":{"name":"one"},"mark":{"type":"text","align":"right","baseline":"middle","fontSize":11.5,"color":"#333"},"encoding":{"x":{"datum":96,"type":"quantitative","axis":null},"y":{"datum":7,"type":"quantitative","axis":null},"text":{"value":"3.1%"}}},
    {"data":{"name":"one"},"mark":{"type":"text","align":"center","baseline":"alphabetic","fontSize":14,"color":"black","lineHeight":17},"encoding":{"x":{"datum":50,"type":"quantitative","axis":null},"y":{"datum":121.7,"type":"quantitative","axis":null},"text":{"value":["Cirrhotic","HCV"]}}},
    {"data":{"name":"one"},"mark":{"type":"rule","color":"black","strokeWidth":2},"encoding":{"x":{"datum":-12,"type":"quantitative","axis":null},"y":{"datum":41,"type":"quantitative","axis":null},"y2":{"datum":90}}},
    {"data":{"name":"one"},"mark":{"type":"point","shape":"triangle-up","filled":true,"size":110,"color":"black","opacity":1},"encoding":{"x":{"datum":-12,"type":"quantitative","axis":null},"y":{"datum":93.5,"type":"quantitative","axis":null}}},
    {"data":{"name":"one"},"mark":{"type":"text","angle":270,"align":"center","baseline":"middle","fontSize":11.5,"color":"#333"},"encoding":{"x":{"datum":-16.3,"type":"quantitative","axis":null},"y":{"datum":16.8,"type":"quantitative","axis":null},"text":{"value":"CD56"}}},
    {"data":{"name":"one"},"mark":{"type":"rule","color":"black","strokeWidth":2},"encoding":{"x":{"datum":44.6,"type":"quantitative","axis":null},"x2":{"datum":92.4},"y":{"datum":-11.4,"type":"quantitative","axis":null}}},
    {"data":{"name":"one"},"mark":{"type":"point","shape":"triangle-right","filled":true,"size":110,"color":"black","opacity":1},"encoding":{"x":{"datum":96.7,"type":"quantitative","axis":null},"y":{"datum":-11.4,"type":"quantitative","axis":null}}},
    {"data":{"name":"one"},"mark":{"type":"text","align":"left","baseline":"middle","fontSize":11.5,"color":"#333"},"encoding":{"x":{"datum":2.2,"type":"quantitative","axis":null},"y":{"datum":-11.4,"type":"quantitative","axis":null},"text":{"value":"TRAIL"}}}
   ]}
  ]},
  {"width":165,"height":277,"resolve":{"scale":{"y":"independent"}},"layer":[
   {"layer":[
    {"data":{"name":"one"},"mark":{"type":"rect","filled":false,"color":"#404040","strokeWidth":1.2},"encoding":{"x":{"datum":0,"type":"quantitative","scale":{"domain":[0,100],"range":[0,92],"nice":false,"zero":false},"axis":null},"x2":{"datum":100},"y":{"datum":0,"type":"quantitative","scale":{"domain":[0,100],"range":[128,36],"nice":false,"zero":false},"axis":null},"y2":{"datum":100}}},
    {"data":{"name":"one"},"mark":{"type":"rule","color":"#404040","strokeWidth":1},"encoding":{"x":{"datum":28,"type":"quantitative","axis":null},"y":{"datum":0,"type":"quantitative","axis":null},"y2":{"datum":100}}},
    {"data":{"name":"one"},"mark":{"type":"rule","color":"#404040","strokeWidth":1},"encoding":{"x":{"datum":0,"type":"quantitative","axis":null},"x2":{"datum":100},"y":{"datum":63,"type":"quantitative","axis":null}}},
    {"data":{"name":"flow"},"transform":[{"filter":"datum.p=='A2'"}],"mark":{"type":"square","size":9,"opacity":1},"encoding":{"x":{"field":"x","type":"quantitative","axis":null},"y":{"field":"y","type":"quantitative","axis":null},"color":{"field":"d","type":"ordinal","scale":{"domain":[0,1,2,3,4],"range":["#1414ff","#3c78ff","#18c040","#f2e200","#ff2200"]},"legend":null},"order":{"field":"d","type":"quantitative"}}},
    {"data":{"name":"one"},"mark":{"type":"text","align":"right","baseline":"middle","fontSize":11.5,"color":"#333"},"encoding":{"x":{"datum":96,"type":"quantitative","axis":null},"y":{"datum":92,"type":"quantitative","axis":null},"text":{"value":"6.1%"}}},
    {"data":{"name":"one"},"mark":{"type":"text","align":"right","baseline":"middle","fontSize":11.5,"color":"#333"},"encoding":{"x":{"datum":96,"type":"quantitative","axis":null},"y":{"datum":7,"type":"quantitative","axis":null},"text":{"value":"0.7%"}}},
    {"data":{"name":"one"},"mark":{"type":"text","align":"center","baseline":"alphabetic","fontSize":14,"color":"#C8C800","lineHeight":17},"encoding":{"x":{"datum":50,"type":"quantitative","axis":null},"y":{"datum":125.5,"type":"quantitative","axis":null},"text":{"value":["Cirrhotic","non-HCV"]}}},
    {"data":{"name":"one"},"mark":{"type":"rule","color":"black","strokeWidth":2},"encoding":{"x":{"datum":-12,"type":"quantitative","axis":null},"y":{"datum":41,"type":"quantitative","axis":null},"y2":{"datum":90}}},
    {"data":{"name":"one"},"mark":{"type":"point","shape":"triangle-up","filled":true,"size":110,"color":"black","opacity":1},"encoding":{"x":{"datum":-12,"type":"quantitative","axis":null},"y":{"datum":93.5,"type":"quantitative","axis":null}}},
    {"data":{"name":"one"},"mark":{"type":"text","angle":270,"align":"center","baseline":"middle","fontSize":11.5,"color":"#333"},"encoding":{"x":{"datum":-16.3,"type":"quantitative","axis":null},"y":{"datum":16.8,"type":"quantitative","axis":null},"text":{"value":"CD56"}}},
    {"data":{"name":"one"},"mark":{"type":"rule","color":"black","strokeWidth":2},"encoding":{"x":{"datum":44.6,"type":"quantitative","axis":null},"x2":{"datum":92.4},"y":{"datum":-11.4,"type":"quantitative","axis":null}}},
    {"data":{"name":"one"},"mark":{"type":"point","shape":"triangle-right","filled":true,"size":110,"color":"black","opacity":1},"encoding":{"x":{"datum":96.7,"type":"quantitative","axis":null},"y":{"datum":-11.4,"type":"quantitative","axis":null}}},
    {"data":{"name":"one"},"mark":{"type":"text","align":"left","baseline":"middle","fontSize":11.5,"color":"#333"},"encoding":{"x":{"datum":2.2,"type":"quantitative","axis":null},"y":{"datum":-11.4,"type":"quantitative","axis":null},"text":{"value":"TRAIL"}}},
    {"data":{"name":"one"},"mark":{"type":"text","align":"center","baseline":"middle","fontSize":20,"fontWeight":"bold","color":"black"},"encoding":{"x":{"datum":139,"type":"quantitative","axis":null},"y":{"datum":122.8,"type":"quantitative","axis":null},"text":{"value":"B"}}}
   ]},
   {"layer":[
    {"data":{"name":"one"},"mark":{"type":"rect","filled":false,"color":"#404040","strokeWidth":1.2},"encoding":{"x":{"datum":0,"type":"quantitative","axis":null},"x2":{"datum":100},"y":{"datum":0,"type":"quantitative","scale":{"domain":[0,100],"range":[277,185],"nice":false,"zero":false},"axis":null},"y2":{"datum":100}}},
    {"data":{"name":"one"},"mark":{"type":"rule","color":"#404040","strokeWidth":1},"encoding":{"x":{"datum":28,"type":"quantitative","axis":null},"y":{"datum":0,"type":"quantitative","axis":null},"y2":{"datum":100}}},
    {"data":{"name":"one"},"mark":{"type":"rule","color":"#404040","strokeWidth":1},"encoding":{"x":{"datum":0,"type":"quantitative","axis":null},"x2":{"datum":100},"y":{"datum":63,"type":"quantitative","axis":null}}},
    {"data":{"name":"flow"},"transform":[{"filter":"datum.p=='A4'"}],"mark":{"type":"square","size":9,"opacity":1},"encoding":{"x":{"field":"x","type":"quantitative","axis":null},"y":{"field":"y","type":"quantitative","axis":null},"color":{"field":"d","type":"ordinal","scale":{"domain":[0,1,2,3,4],"range":["#1414ff","#3c78ff","#18c040","#f2e200","#ff2200"]},"legend":null},"order":{"field":"d","type":"quantitative"}}},
    {"data":{"name":"one"},"mark":{"type":"text","align":"right","baseline":"middle","fontSize":11.5,"color":"#333"},"encoding":{"x":{"datum":96,"type":"quantitative","axis":null},"y":{"datum":92,"type":"quantitative","axis":null},"text":{"value":"8.7%"}}},
    {"data":{"name":"one"},"mark":{"type":"text","align":"right","baseline":"middle","fontSize":11.5,"color":"#333"},"encoding":{"x":{"datum":96,"type":"quantitative","axis":null},"y":{"datum":7,"type":"quantitative","axis":null},"text":{"value":"1.6%"}}},
    {"data":{"name":"one"},"mark":{"type":"text","align":"center","baseline":"alphabetic","fontSize":14,"color":"#FF0000","lineHeight":17},"encoding":{"x":{"datum":50,"type":"quantitative","axis":null},"y":{"datum":121.7,"type":"quantitative","axis":null},"text":{"value":["Non-cirrhotic","HCV"]}}},
    {"data":{"name":"one"},"mark":{"type":"rule","color":"black","strokeWidth":2},"encoding":{"x":{"datum":-12,"type":"quantitative","axis":null},"y":{"datum":41,"type":"quantitative","axis":null},"y2":{"datum":90}}},
    {"data":{"name":"one"},"mark":{"type":"point","shape":"triangle-up","filled":true,"size":110,"color":"black","opacity":1},"encoding":{"x":{"datum":-12,"type":"quantitative","axis":null},"y":{"datum":93.5,"type":"quantitative","axis":null}}},
    {"data":{"name":"one"},"mark":{"type":"text","angle":270,"align":"center","baseline":"middle","fontSize":11.5,"color":"#333"},"encoding":{"x":{"datum":-16.3,"type":"quantitative","axis":null},"y":{"datum":16.8,"type":"quantitative","axis":null},"text":{"value":"CD56"}}},
    {"data":{"name":"one"},"mark":{"type":"rule","color":"black","strokeWidth":2},"encoding":{"x":{"datum":44.6,"type":"quantitative","axis":null},"x2":{"datum":92.4},"y":{"datum":-11.4,"type":"quantitative","axis":null}}},
    {"data":{"name":"one"},"mark":{"type":"point","shape":"triangle-right","filled":true,"size":110,"color":"black","opacity":1},"encoding":{"x":{"datum":96.7,"type":"quantitative","axis":null},"y":{"datum":-11.4,"type":"quantitative","axis":null}}},
    {"data":{"name":"one"},"mark":{"type":"text","align":"left","baseline":"middle","fontSize":11.5,"color":"#333"},"encoding":{"x":{"datum":2.2,"type":"quantitative","axis":null},"y":{"datum":-11.4,"type":"quantitative","axis":null},"text":{"value":"TRAIL"}}},
    {"data":{"name":"one"},"mark":{"type":"text","align":"center","baseline":"middle","fontSize":20,"fontWeight":"bold","color":"black"},"encoding":{"x":{"datum":136,"type":"quantitative","axis":null},"y":{"datum":124.5,"type":"quantitative","axis":null},"text":{"value":"C"}}}
   ]}
  ]},
  {"width":159,"height":288,"resolve":{"scale":{"x":"independent","y":"independent","xOffset":"independent"}},"layer":[
   {"layer":[
    {"data":{"name":"bars"},"transform":[{"filter":"datum.n=='B'"}],"mark":{"type":"bar","fill":"white","stroke":"#8c8c8c","strokeWidth":1.5},"encoding":{"x":{"field":"g","type":"nominal","scale":{"domain":["Healthy","Cirrhotic non-HCV","Cirrhotic HCV","Non-cirrhotic HCV"],"range":[0,96],"paddingInner":0.4,"paddingOuter":0.2},"axis":{"orient":"bottom","offset":-148,"labels":false,"ticks":false,"title":null}},"y":{"field":"m","type":"quantitative","scale":{"domain":[0,20,25,50],"range":[140,69,57,44],"nice":false,"zero":false},"axis":{"orient":"left","values":[0,5,10,15,20,25,50],"labelFontSize":12,"title":["% TRAIL+","CD56ᵇʳⁱᵍʰᵗ cells"]}}}},
    {"data":{"name":"bars"},"transform":[{"filter":"datum.n=='B'"}],"mark":{"type":"rule","color":"#8c8c8c","strokeWidth":1.2},"encoding":{"x":{"field":"g","type":"nominal"},"y":{"field":"m","type":"quantitative"},"y2":{"field":"e"}}},
    {"data":{"name":"bars"},"transform":[{"filter":"datum.n=='B'"}],"mark":{"type":"tick","color":"#8c8c8c","thickness":1.2,"size":7},"encoding":{"x":{"field":"g","type":"nominal"},"y":{"field":"e","type":"quantitative"}}},
    {"data":{"name":"dots"},"transform":[{"filter":"datum.n=='B'"}],"mark":{"type":"point","filled":true,"size":42,"stroke":"#111","strokeWidth":0.6,"opacity":1},"encoding":{"x":{"field":"g","type":"nominal"},"xOffset":{"field":"s","type":"quantitative","scale":{"domain":[0,17]}},"y":{"field":"v","type":"quantitative"},"fill":{"field":"g","type":"nominal","title":null,"scale":{"domain":["Healthy","Cirrhotic non-HCV","Cirrhotic HCV","Non-cirrhotic HCV"],"range":["#1C8AE8","#DCDC00","#000000","#FF0000"]}}}},
    {"data":{"name":"ann"},"transform":[{"filter":"datum.n=='B' && datum.k=='T'"}],"mark":{"type":"rule","color":"black","strokeWidth":1.5},"encoding":{"x":{"field":"a","type":"nominal","bandPosition":0.5},"x2":{"field":"b","bandPosition":0.9},"y":{"field":"lv","type":"quantitative"}}},
    {"data":{"name":"ann"},"transform":[{"filter":"datum.n=='B' && datum.k=='M'"}],"mark":{"type":"rule","color":"black","strokeWidth":1.5},"encoding":{"x":{"field":"a","type":"nominal","bandPosition":0.5},"x2":{"field":"b","bandPosition":0.25},"y":{"field":"lv","type":"quantitative"}}},
    {"data":{"name":"ann"},"transform":[{"filter":"datum.n=='B' && datum.k=='l'"}],"mark":{"type":"rule","color":"black","strokeWidth":1.5},"encoding":{"x":{"field":"a","type":"nominal","bandPosition":0.15},"x2":{"field":"b","bandPosition":0.2},"y":{"field":"lv","type":"quantitative"}}},
    {"data":{"name":"ann"},"transform":[{"filter":"datum.n=='B' && datum.k=='r'"}],"mark":{"type":"rule","color":"black","strokeWidth":1.5},"encoding":{"x":{"field":"a","type":"nominal","bandPosition":0.75},"x2":{"field":"b","bandPosition":1},"y":{"field":"lv","type":"quantitative"}}},
    {"data":{"name":"ann"},"transform":[{"filter":"datum.n=='B' && datum.k=='T'"}],"mark":{"type":"text","align":"center","baseline":"alphabetic","dy":-3,"dx":46,"fontSize":12,"color":"black"},"encoding":{"x":{"field":"a","type":"nominal","bandPosition":0},"y":{"field":"lv","type":"quantitative"},"text":{"field":"t"}}},
    {"data":{"name":"ann"},"transform":[{"filter":"datum.n=='B' && datum.k=='M'"}],"mark":{"type":"text","align":"center","baseline":"alphabetic","dy":-3,"dx":29,"fontSize":12,"color":"black"},"encoding":{"x":{"field":"a","type":"nominal","bandPosition":0},"y":{"field":"lv","type":"quantitative"},"text":{"field":"t"}}},
    {"data":{"name":"ann"},"transform":[{"filter":"datum.n=='B' && datum.k=='l'"}],"mark":{"type":"text","align":"center","baseline":"alphabetic","dy":-3,"dx":14.5,"fontSize":12,"color":"black"},"encoding":{"x":{"field":"a","type":"nominal","bandPosition":0},"y":{"field":"lv","type":"quantitative"},"text":{"field":"t"}}},
    {"data":{"name":"ann"},"transform":[{"filter":"datum.n=='B' && datum.k=='r'"}],"mark":{"type":"text","align":"left","baseline":"alphabetic","dy":-3,"fontSize":12,"color":"black"},"encoding":{"x":{"field":"a","type":"nominal","bandPosition":0.75},"y":{"field":"lv","type":"quantitative"},"text":{"field":"t"}}},
    {"data":{"name":"one"},"mark":{"type":"rule","color":"white","strokeWidth":4},"encoding":{"x":{"datum":"Healthy","type":"nominal","bandPosition":-0.34},"y":{"datum":20.8,"type":"quantitative"},"y2":{"datum":24.2}}}
   ]},
   {"layer":[
    {"data":{"name":"bars"},"transform":[{"filter":"datum.n=='C'"}],"mark":{"type":"bar","fill":"white","stroke":"#8c8c8c","strokeWidth":1.5},"encoding":{"x":{"field":"g","type":"nominal","scale":{"domain":["Healthy","Cirrhotic non-HCV","Cirrhotic HCV","Non-cirrhotic HCV"],"range":[0,96],"paddingInner":0.4,"paddingOuter":0.2},"axis":{"orient":"bottom","labels":false,"ticks":false,"title":null}},"y":{"field":"m","type":"quantitative","scale":{"domain":[0,6],"range":[288,191],"nice":false,"zero":false},"axis":{"orient":"left","values":[0,2,4,6],"title":["% TRAIL+","CD56ᵈⁱᵐ cells"]}}}},
    {"data":{"name":"bars"},"transform":[{"filter":"datum.n=='C'"}],"mark":{"type":"rule","color":"#8c8c8c","strokeWidth":1.2},"encoding":{"x":{"field":"g","type":"nominal"},"y":{"field":"m","type":"quantitative"},"y2":{"field":"e"}}},
    {"data":{"name":"bars"},"transform":[{"filter":"datum.n=='C'"}],"mark":{"type":"tick","color":"#8c8c8c","thickness":1.2,"size":7},"encoding":{"x":{"field":"g","type":"nominal"},"y":{"field":"e","type":"quantitative"}}},
    {"data":{"name":"dots"},"transform":[{"filter":"datum.n=='C'"}],"mark":{"type":"point","filled":true,"size":42,"stroke":"#111","strokeWidth":0.6,"opacity":1},"encoding":{"x":{"field":"g","type":"nominal"},"xOffset":{"field":"s","type":"quantitative","scale":{"domain":[0,17]}},"y":{"field":"v","type":"quantitative"},"fill":{"field":"g","type":"nominal","title":null,"scale":{"domain":["Healthy","Cirrhotic non-HCV","Cirrhotic HCV","Non-cirrhotic HCV"],"range":["#1C8AE8","#DCDC00","#000000","#FF0000"]}}}},
    {"data":{"name":"ann"},"transform":[{"filter":"datum.n=='C' && datum.k=='T'"}],"mark":{"type":"rule","color":"black","strokeWidth":1.5},"encoding":{"x":{"field":"a","type":"nominal","bandPosition":0.5},"x2":{"field":"b","bandPosition":0.9},"y":{"field":"lv","type":"quantitative"}}},
    {"data":{"name":"ann"},"transform":[{"filter":"datum.n=='C' && datum.k=='M'"}],"mark":{"type":"rule","color":"black","strokeWidth":1.5},"encoding":{"x":{"field":"a","type":"nominal","bandPosition":0.5},"x2":{"field":"b","bandPosition":0.25},"y":{"field":"lv","type":"quantitative"}}},
    {"data":{"name":"ann"},"transform":[{"filter":"datum.n=='C' && datum.k=='l'"}],"mark":{"type":"rule","color":"black","strokeWidth":1.5},"encoding":{"x":{"field":"a","type":"nominal","bandPosition":0.15},"x2":{"field":"b","bandPosition":0.2},"y":{"field":"lv","type":"quantitative"}}},
    {"data":{"name":"ann"},"transform":[{"filter":"datum.n=='C' && datum.k=='r'"}],"mark":{"type":"rule","color":"black","strokeWidth":1.5},"encoding":{"x":{"field":"a","type":"nominal","bandPosition":0.75},"x2":{"field":"b","bandPosition":1},"y":{"field":"lv","type":"quantitative"}}},
    {"data":{"name":"ann"},"transform":[{"filter":"datum.n=='C' && datum.k=='T'"}],"mark":{"type":"text","align":"center","baseline":"alphabetic","dy":-3,"dx":46,"fontSize":12,"color":"black"},"encoding":{"x":{"field":"a","type":"nominal","bandPosition":0},"y":{"field":"lv","type":"quantitative"},"text":{"field":"t"}}},
    {"data":{"name":"ann"},"transform":[{"filter":"datum.n=='C' && datum.k=='M'"}],"mark":{"type":"text","align":"center","baseline":"alphabetic","dy":-3,"dx":29,"fontSize":12,"color":"black"},"encoding":{"x":{"field":"a","type":"nominal","bandPosition":0},"y":{"field":"lv","type":"quantitative"},"text":{"field":"t"}}},
    {"data":{"name":"ann"},"transform":[{"filter":"datum.n=='C' && datum.k=='l'"}],"mark":{"type":"text","align":"center","baseline":"alphabetic","dy":-3,"dx":14.5,"fontSize":12,"color":"black"},"encoding":{"x":{"field":"a","type":"nominal","bandPosition":0},"y":{"field":"lv","type":"quantitative"},"text":{"field":"t"}}},
    {"data":{"name":"ann"},"transform":[{"filter":"datum.n=='C' && datum.k=='r'"}],"mark":{"type":"text","align":"left","baseline":"alphabetic","dy":-3,"fontSize":12,"color":"black"},"encoding":{"x":{"field":"a","type":"nominal","bandPosition":0.75},"y":{"field":"lv","type":"quantitative"},"text":{"field":"t"}}}
   ]}
  ]},
  {"width":181,"height":288,"title":{"text":"D","anchor":"start","frame":"group","dx":-57,"offset":-39,"baseline":"alphabetic","fontSize":20,"fontWeight":"bold","color":"black"},"resolve":{"scale":{"x":"independent","y":"independent"}},"layer":[
   {"layer":[
    {"data":{"name":"pts"},"transform":[{"filter":"datum.n=='D' && datum.t!='H'"}],"mark":{"type":"line","color":"#a8a8a8","strokeWidth":0.9},"encoding":{"x":{"field":"t","type":"nominal","scale":{"type":"point","domain":["_0","_1","_2","B","_4","_5","_6","_7","_8","W4","_10","_11","_12","_13","_14","_15","_16","_17","FU12","_19","_20","_21","_22","_23","_24","_25","_26","_27","_28","_29","_30","_31","_32","_33","_34","FU48","_36","_37","_38","_39","_40","_41","_42","H","_44"],"range":[0,121],"padding":0},"axis":{"orient":"bottom","offset":-148,"values":["B","W4","FU12","FU48","H"],"ticks":false,"title":null,"labelAngle":0,"labelFontSize":11.5,"labelPadding":3}},"y":{"field":"v","type":"quantitative","scale":{"domain":[0,20,25,50],"range":[140,69,57,44],"nice":false,"zero":false},"axis":{"orient":"left","values":[0,5,10,15,20,25,50],"labelFontSize":12,"title":null}},"detail":{"field":"i","type":"nominal"},"order":{"value":null}}},
    {"data":{"name":"pts"},"transform":[{"filter":"datum.n=='D' && datum.t!='H'"}],"mark":{"type":"point","filled":true,"size":42,"fill":"#000000","stroke":"#111","strokeWidth":0.6,"opacity":1},"encoding":{"x":{"field":"t","type":"nominal"},"y":{"field":"v","type":"quantitative"}}},
    {"data":{"name":"pts"},"transform":[{"filter":"datum.n=='D' && datum.t=='H'"}],"mark":{"type":"point","filled":true,"size":42,"fill":"#1C8AE8","stroke":"#111","strokeWidth":0.6,"opacity":1},"encoding":{"x":{"field":"t","type":"nominal"},"y":{"field":"v","type":"quantitative"}}},
    {"data":{"name":"ann"},"transform":[{"filter":"datum.n=='D'"}],"mark":{"type":"rule","color":"black","strokeWidth":1.5},"encoding":{"x":{"field":"a","type":"nominal"},"x2":{"field":"b"},"y":{"field":"lv","type":"quantitative"}}},
    {"data":{"name":"ann"},"transform":[{"filter":"datum.n=='D'"}],"mark":{"type":"text","baseline":"alphabetic","dy":-3,"fontSize":12,"color":"black"},"encoding":{"x":{"field":"c","type":"nominal"},"y":{"field":"lv","type":"quantitative"},"text":{"field":"t"}}},
    {"data":{"name":"one"},"mark":{"type":"rule","color":"white","strokeWidth":4},"encoding":{"x":{"datum":"_0","type":"nominal"},"y":{"datum":20.8,"type":"quantitative"},"y2":{"datum":24.2}}}
   ]},
   {"layer":[
    {"data":{"name":"pts"},"transform":[{"filter":"datum.n=='E1' && datum.t!='H'"}],"mark":{"type":"line","color":"#a8a8a8","strokeWidth":0.9},"encoding":{"x":{"field":"t","type":"nominal","scale":{"type":"point","domain":["_0","_1","_2","B","_4","_5","_6","_7","_8","W4","_10","_11","_12","_13","_14","_15","_16","_17","FU12","_19","_20","_21","_22","_23","_24","_25","_26","_27","_28","_29","_30","_31","_32","_33","_34","FU48","_36","_37","_38","_39","_40","_41","_42","H","_44"],"range":[0,121],"padding":0},"axis":{"orient":"bottom","values":["B","W4","FU12","FU48","H"],"ticks":false,"title":null,"labelAngle":0,"labelFontSize":11.5,"labelPadding":3}},"y":{"field":"v","type":"quantitative","scale":{"domain":[0,6],"range":[288,191],"nice":false,"zero":false},"axis":{"orient":"left","values":[0,2,4,6],"title":null}},"detail":{"field":"i","type":"nominal"},"order":{"value":null}}},
    {"data":{"name":"pts"},"transform":[{"filter":"datum.n=='E1' && datum.t!='H'"}],"mark":{"type":"point","filled":true,"size":42,"fill":"#000000","stroke":"#111","strokeWidth":0.6,"opacity":1},"encoding":{"x":{"field":"t","type":"nominal"},"y":{"field":"v","type":"quantitative"}}},
    {"data":{"name":"pts"},"transform":[{"filter":"datum.n=='E1' && datum.t=='H'"}],"mark":{"type":"point","filled":true,"size":42,"fill":"#1C8AE8","stroke":"#111","strokeWidth":0.6,"opacity":1},"encoding":{"x":{"field":"t","type":"nominal"},"y":{"field":"v","type":"quantitative"}}},
    {"data":{"name":"ann"},"transform":[{"filter":"datum.n=='E1'"}],"mark":{"type":"rule","color":"black","strokeWidth":1.5},"encoding":{"x":{"field":"a","type":"nominal"},"x2":{"field":"b"},"y":{"field":"lv","type":"quantitative"}}},
    {"data":{"name":"ann"},"transform":[{"filter":"datum.n=='E1'"}],"mark":{"type":"text","baseline":"alphabetic","dy":-3,"fontSize":12,"color":"black"},"encoding":{"x":{"field":"c","type":"nominal"},"y":{"field":"lv","type":"quantitative"},"text":{"field":"t"}}}
   ]}
  ]},
  {"width":130,"height":288,"title":{"text":"E","anchor":"start","frame":"group","dx":-238,"offset":-191,"baseline":"alphabetic","fontSize":20,"fontWeight":"bold","color":"black"},"layer":[
    {"data":{"name":"pts"},"transform":[{"filter":"datum.n=='E2' && datum.t!='H'"}],"mark":{"type":"line","color":"#a8a8a8","strokeWidth":0.9},"encoding":{"x":{"field":"t","type":"nominal","scale":{"type":"point","domain":["_0","_1","_2","B","_4","_5","_6","_7","_8","W4","_10","_11","_12","_13","_14","_15","_16","_17","FU12","_19","_20","_21","_22","_23","_24","_25","_26","_27","_28","_29","_30","_31","_32","_33","_34","FU48","_36","_37","_38","_39","_40","_41","_42","H","_44"],"range":[0,124],"padding":0},"axis":{"orient":"bottom","values":["B","W4","FU12","FU48","H"],"ticks":false,"title":null,"labelAngle":0,"labelFontSize":11.5,"labelPadding":3}},"y":{"field":"v","type":"quantitative","scale":{"domain":[0,6],"range":[288,191],"nice":false,"zero":false},"axis":{"orient":"left","values":[0,2,4,6],"title":null}},"detail":{"field":"i","type":"nominal"},"order":{"value":null}}},
    {"data":{"name":"pts"},"transform":[{"filter":"datum.n=='E2' && datum.t!='H'"}],"mark":{"type":"point","filled":true,"size":42,"fill":"#FF0000","stroke":"#111","strokeWidth":0.6,"opacity":1},"encoding":{"x":{"field":"t","type":"nominal"},"y":{"field":"v","type":"quantitative"}}},
    {"data":{"name":"pts"},"transform":[{"filter":"datum.n=='E2' && datum.t=='H'"}],"mark":{"type":"point","filled":true,"size":42,"fill":"#1C8AE8","stroke":"#111","strokeWidth":0.6,"opacity":1},"encoding":{"x":{"field":"t","type":"nominal"},"y":{"field":"v","type":"quantitative"}}},
    {"data":{"name":"ann"},"transform":[{"filter":"datum.n=='E2'"}],"mark":{"type":"rule","color":"black","strokeWidth":1.5},"encoding":{"x":{"field":"a","type":"nominal"},"x2":{"field":"b"},"y":{"field":"lv","type":"quantitative"}}},
    {"data":{"name":"ann"},"transform":[{"filter":"datum.n=='E2'"}],"mark":{"type":"text","baseline":"alphabetic","dy":-3,"fontSize":12,"color":"black"},"encoding":{"x":{"field":"c","type":"nominal"},"y":{"field":"lv","type":"quantitative"},"text":{"field":"t"}}}
  ]}
 ],
 "spacing": 0, "bounds": "flush", "resolve": {"scale": {"xOffset": "independent"}}
},
{
 "hconcat": [
  {"width":56,"height":243,"data":{"name":"one"},"mark":{"type":"point","opacity":0},"encoding":{}},
  {"width":116,"height":227,"resolve":{"scale":{"y":"independent"}},"layer":[
   {"layer":[
    {"data":{"name":"one"},"mark":{"type":"rect","filled":false,"color":"#404040","strokeWidth":1.2},"encoding":{"x":{"datum":0,"type":"quantitative","scale":{"domain":[0,100],"range":[0,91.3],"nice":false,"zero":false},"axis":null},"x2":{"datum":100},"y":{"datum":0,"type":"quantitative","scale":{"domain":[0,100],"range":[127,36],"nice":false,"zero":false},"axis":null},"y2":{"datum":100}}},
    {"data":{"name":"one"},"mark":{"type":"rect","filled":false,"color":"#404040","strokeWidth":1.2},"encoding":{"x":{"datum":25.6,"type":"quantitative","axis":null},"x2":{"datum":92.6},"y":{"datum":10,"type":"quantitative","axis":null},"y2":{"datum":80}}},
    {"data":{"name":"flow"},"transform":[{"filter":"datum.p=='F1'"}],"mark":{"type":"square","size":9,"opacity":1},"encoding":{"x":{"field":"x","type":"quantitative","axis":null},"y":{"field":"y","type":"quantitative","axis":null},"color":{"field":"d","type":"ordinal","scale":{"domain":[0,1,2,3,4],"range":["#1414ff","#3c78ff","#18c040","#f2e200","#ff2200"]},"legend":null},"order":{"field":"d","type":"quantitative"}}},
    {"data":{"name":"one"},"mark":{"type":"text","align":"left","baseline":"middle","fontSize":12,"color":"#404040"},"encoding":{"x":{"datum":8,"type":"quantitative","axis":null},"y":{"datum":90,"type":"quantitative","axis":null},"text":{"value":"- K562"}}},
    {"data":{"name":"one"},"mark":{"type":"text","align":"right","baseline":"middle","fontSize":12,"color":"#333"},"encoding":{"x":{"datum":82,"type":"quantitative","axis":null},"y":{"datum":69.5,"type":"quantitative","axis":null},"text":{"value":"1.8%"}}},
    {"data":{"name":"one"},"mark":{"type":"text","align":"center","baseline":"alphabetic","fontSize":14,"color":"#0070C0","lineHeight":16.5},"encoding":{"x":{"datum":50,"type":"quantitative","axis":null},"y":{"datum":104.6,"type":"quantitative","axis":null},"text":{"value":["Healthy"]}}},
    {"data":{"name":"one"},"mark":{"type":"text","align":"center","baseline":"middle","fontSize":20,"fontWeight":"bold","color":"black"},"encoding":{"x":{"datum":-29.6,"type":"quantitative","axis":null},"y":{"datum":128.1,"type":"quantitative","axis":null},"text":{"value":"F"}}}
   ]},
   {"layer":[
    {"data":{"name":"one"},"mark":{"type":"rect","filled":false,"color":"#404040","strokeWidth":1.2},"encoding":{"x":{"datum":0,"type":"quantitative","axis":null},"x2":{"datum":100},"y":{"datum":0,"type":"quantitative","scale":{"domain":[0,100],"range":[227,136],"nice":false,"zero":false},"axis":null},"y2":{"datum":100}}},
    {"data":{"name":"one"},"mark":{"type":"rect","filled":false,"color":"#404040","strokeWidth":1.2},"encoding":{"x":{"datum":25.6,"type":"quantitative","axis":null},"x2":{"datum":92.6},"y":{"datum":10,"type":"quantitative","axis":null},"y2":{"datum":80}}},
    {"data":{"name":"flow"},"transform":[{"filter":"datum.p=='F5'"}],"mark":{"type":"square","size":9,"opacity":1},"encoding":{"x":{"field":"x","type":"quantitative","axis":null},"y":{"field":"y","type":"quantitative","axis":null},"color":{"field":"d","type":"ordinal","scale":{"domain":[0,1,2,3,4],"range":["#1414ff","#3c78ff","#18c040","#f2e200","#ff2200"]},"legend":null},"order":{"field":"d","type":"quantitative"}}},
    {"data":{"name":"one"},"mark":{"type":"text","align":"left","baseline":"middle","fontSize":12,"color":"#404040"},"encoding":{"x":{"datum":8,"type":"quantitative","axis":null},"y":{"datum":90,"type":"quantitative","axis":null},"text":{"value":"+ K562"}}},
    {"data":{"name":"one"},"mark":{"type":"text","align":"right","baseline":"middle","fontSize":12,"color":"#333"},"encoding":{"x":{"datum":82,"type":"quantitative","axis":null},"y":{"datum":69.5,"type":"quantitative","axis":null},"text":{"value":"45.2%"}}},
    {"data":{"name":"one"},"mark":{"type":"rule","color":"black","strokeWidth":2},"encoding":{"x":{"datum":-16.8,"type":"quantitative","axis":null},"y":{"datum":38.3,"type":"quantitative","axis":null},"y2":{"datum":199}}},
    {"data":{"name":"one"},"mark":{"type":"point","shape":"triangle-up","filled":true,"size":110,"color":"black","opacity":1},"encoding":{"x":{"datum":-16.8,"type":"quantitative","axis":null},"y":{"datum":201.5,"type":"quantitative","axis":null}}},
    {"data":{"name":"one"},"mark":{"type":"text","angle":270,"align":"center","baseline":"middle","fontSize":12,"color":"#333"},"encoding":{"x":{"datum":-16.4,"type":"quantitative","axis":null},"y":{"datum":17,"type":"quantitative","axis":null},"text":{"value":"CD56"}}},
    {"data":{"name":"one"},"mark":{"type":"rule","color":"black","strokeWidth":2},"encoding":{"x":{"datum":58,"type":"quantitative","axis":null},"x2":{"datum":468},"y":{"datum":-11,"type":"quantitative","axis":null}}},
    {"data":{"name":"one"},"mark":{"type":"point","shape":"triangle-right","filled":true,"size":110,"color":"black","opacity":1},"encoding":{"x":{"datum":473,"type":"quantitative","axis":null},"y":{"datum":-11,"type":"quantitative","axis":null}}},
    {"data":{"name":"one"},"mark":{"type":"text","align":"left","baseline":"middle","fontSize":11.5,"color":"#333"},"encoding":{"x":{"datum":0,"type":"quantitative","axis":null},"y":{"datum":-11,"type":"quantitative","axis":null},"text":{"value":"CD107a"}}}
   ]}
  ]},
  {"width":117,"height":227,"resolve":{"scale":{"y":"independent"}},"layer":[
   {"layer":[
    {"data":{"name":"one"},"mark":{"type":"rect","filled":false,"color":"#404040","strokeWidth":1.2},"encoding":{"x":{"datum":0,"type":"quantitative","scale":{"domain":[0,100],"range":[0,91.3],"nice":false,"zero":false},"axis":null},"x2":{"datum":100},"y":{"datum":0,"type":"quantitative","scale":{"domain":[0,100],"range":[127,36],"nice":false,"zero":false},"axis":null},"y2":{"datum":100}}},
    {"data":{"name":"one"},"mark":{"type":"rect","filled":false,"color":"#404040","strokeWidth":1.2},"encoding":{"x":{"datum":26,"type":"quantitative","axis":null},"x2":{"datum":93},"y":{"datum":10,"type":"quantitative","axis":null},"y2":{"datum":80}}},
    {"data":{"name":"flow"},"transform":[{"filter":"datum.p=='F2'"}],"mark":{"type":"square","size":9,"opacity":1},"encoding":{"x":{"field":"x","type":"quantitative","axis":null},"y":{"field":"y","type":"quantitative","axis":null},"color":{"field":"d","type":"ordinal","scale":{"domain":[0,1,2,3,4],"range":["#1414ff","#3c78ff","#18c040","#f2e200","#ff2200"]},"legend":null},"order":{"field":"d","type":"quantitative"}}},
    {"data":{"name":"one"},"mark":{"type":"text","align":"left","baseline":"middle","fontSize":12,"color":"#404040"},"encoding":{"x":{"datum":8,"type":"quantitative","axis":null},"y":{"datum":90,"type":"quantitative","axis":null},"text":{"value":"- K562"}}},
    {"data":{"name":"one"},"mark":{"type":"text","align":"right","baseline":"middle","fontSize":12,"color":"#333"},"encoding":{"x":{"datum":82,"type":"quantitative","axis":null},"y":{"datum":69.5,"type":"quantitative","axis":null},"text":{"value":"1.8%"}}},
    {"data":{"name":"one"},"mark":{"type":"text","align":"center","baseline":"alphabetic","fontSize":14,"color":"#C8C800","lineHeight":16.5},"encoding":{"x":{"datum":50,"type":"quantitative","axis":null},"y":{"datum":121.6,"type":"quantitative","axis":null},"text":{"value":["Cirrhotic","non-HCV"]}}}
   ]},
   {"layer":[
    {"data":{"name":"one"},"mark":{"type":"rect","filled":false,"color":"#404040","strokeWidth":1.2},"encoding":{"x":{"datum":0,"type":"quantitative","axis":null},"x2":{"datum":100},"y":{"datum":0,"type":"quantitative","scale":{"domain":[0,100],"range":[227,136],"nice":false,"zero":false},"axis":null},"y2":{"datum":100}}},
    {"data":{"name":"one"},"mark":{"type":"rect","filled":false,"color":"#404040","strokeWidth":1.2},"encoding":{"x":{"datum":26,"type":"quantitative","axis":null},"x2":{"datum":93},"y":{"datum":10,"type":"quantitative","axis":null},"y2":{"datum":80}}},
    {"data":{"name":"flow"},"transform":[{"filter":"datum.p=='F6'"}],"mark":{"type":"square","size":9,"opacity":1},"encoding":{"x":{"field":"x","type":"quantitative","axis":null},"y":{"field":"y","type":"quantitative","axis":null},"color":{"field":"d","type":"ordinal","scale":{"domain":[0,1,2,3,4],"range":["#1414ff","#3c78ff","#18c040","#f2e200","#ff2200"]},"legend":null},"order":{"field":"d","type":"quantitative"}}},
    {"data":{"name":"one"},"mark":{"type":"text","align":"left","baseline":"middle","fontSize":12,"color":"#404040"},"encoding":{"x":{"datum":8,"type":"quantitative","axis":null},"y":{"datum":90,"type":"quantitative","axis":null},"text":{"value":"+ K562"}}},
    {"data":{"name":"one"},"mark":{"type":"text","align":"right","baseline":"middle","fontSize":12,"color":"#333"},"encoding":{"x":{"datum":82,"type":"quantitative","axis":null},"y":{"datum":69.5,"type":"quantitative","axis":null},"text":{"value":"41.3%"}}}
   ]}
  ]},
  {"width":116,"height":227,"resolve":{"scale":{"y":"independent"}},"layer":[
   {"layer":[
    {"data":{"name":"one"},"mark":{"type":"rect","filled":false,"color":"#404040","strokeWidth":1.2},"encoding":{"x":{"datum":0,"type":"quantitative","scale":{"domain":[0,100],"range":[0,91.3],"nice":false,"zero":false},"axis":null},"x2":{"datum":100},"y":{"datum":0,"type":"quantitative","scale":{"domain":[0,100],"range":[127,36],"nice":false,"zero":false},"axis":null},"y2":{"datum":100}}},
    {"data":{"name":"one"},"mark":{"type":"rect","filled":false,"color":"#404040","strokeWidth":1.2},"encoding":{"x":{"datum":24,"type":"quantitative","axis":null},"x2":{"datum":92},"y":{"datum":18,"type":"quantitative","axis":null},"y2":{"datum":79}}},
    {"data":{"name":"flow"},"transform":[{"filter":"datum.p=='F3'"}],"mark":{"type":"square","size":9,"opacity":1},"encoding":{"x":{"field":"x","type":"quantitative","axis":null},"y":{"field":"y","type":"quantitative","axis":null},"color":{"field":"d","type":"ordinal","scale":{"domain":[0,1,2,3,4],"range":["#1414ff","#3c78ff","#18c040","#f2e200","#ff2200"]},"legend":null},"order":{"field":"d","type":"quantitative"}}},
    {"data":{"name":"one"},"mark":{"type":"text","align":"left","baseline":"middle","fontSize":12,"color":"#404040"},"encoding":{"x":{"datum":8,"type":"quantitative","axis":null},"y":{"datum":90,"type":"quantitative","axis":null},"text":{"value":"- K562"}}},
    {"data":{"name":"one"},"mark":{"type":"text","align":"right","baseline":"middle","fontSize":12,"color":"#333"},"encoding":{"x":{"datum":82,"type":"quantitative","axis":null},"y":{"datum":68,"type":"quantitative","axis":null},"text":{"value":"5.1%"}}},
    {"data":{"name":"one"},"mark":{"type":"text","align":"center","baseline":"alphabetic","fontSize":14,"color":"black","lineHeight":16.5},"encoding":{"x":{"datum":50,"type":"quantitative","axis":null},"y":{"datum":121.6,"type":"quantitative","axis":null},"text":{"value":["Cirrhotic","HCV"]}}}
   ]},
   {"layer":[
    {"data":{"name":"one"},"mark":{"type":"rect","filled":false,"color":"#404040","strokeWidth":1.2},"encoding":{"x":{"datum":0,"type":"quantitative","axis":null},"x2":{"datum":100},"y":{"datum":0,"type":"quantitative","scale":{"domain":[0,100],"range":[227,136],"nice":false,"zero":false},"axis":null},"y2":{"datum":100}}},
    {"data":{"name":"one"},"mark":{"type":"rect","filled":false,"color":"#404040","strokeWidth":1.2},"encoding":{"x":{"datum":24,"type":"quantitative","axis":null},"x2":{"datum":92},"y":{"datum":17,"type":"quantitative","axis":null},"y2":{"datum":79}}},
    {"data":{"name":"flow"},"transform":[{"filter":"datum.p=='F7'"}],"mark":{"type":"square","size":9,"opacity":1},"encoding":{"x":{"field":"x","type":"quantitative","axis":null},"y":{"field":"y","type":"quantitative","axis":null},"color":{"field":"d","type":"ordinal","scale":{"domain":[0,1,2,3,4],"range":["#1414ff","#3c78ff","#18c040","#f2e200","#ff2200"]},"legend":null},"order":{"field":"d","type":"quantitative"}}},
    {"data":{"name":"one"},"mark":{"type":"text","align":"left","baseline":"middle","fontSize":12,"color":"#404040"},"encoding":{"x":{"datum":8,"type":"quantitative","axis":null},"y":{"datum":90,"type":"quantitative","axis":null},"text":{"value":"+ K562"}}},
    {"data":{"name":"one"},"mark":{"type":"text","align":"right","baseline":"middle","fontSize":12,"color":"#333"},"encoding":{"x":{"datum":82,"type":"quantitative","axis":null},"y":{"datum":68,"type":"quantitative","axis":null},"text":{"value":"59.5%"}}}
   ]}
  ]},
  {"width":110,"height":227,"resolve":{"scale":{"y":"independent"}},"layer":[
   {"layer":[
    {"data":{"name":"one"},"mark":{"type":"rect","filled":false,"color":"#404040","strokeWidth":1.2},"encoding":{"x":{"datum":0,"type":"quantitative","scale":{"domain":[0,100],"range":[0,91.3],"nice":false,"zero":false},"axis":null},"x2":{"datum":100},"y":{"datum":0,"type":"quantitative","scale":{"domain":[0,100],"range":[127,36],"nice":false,"zero":false},"axis":null},"y2":{"datum":100}}},
    {"data":{"name":"one"},"mark":{"type":"rect","filled":false,"color":"#404040","strokeWidth":1.2},"encoding":{"x":{"datum":25.6,"type":"quantitative","axis":null},"x2":{"datum":92.6},"y":{"datum":10,"type":"quantitative","axis":null},"y2":{"datum":80}}},
    {"data":{"name":"flow"},"transform":[{"filter":"datum.p=='F4'"}],"mark":{"type":"square","size":9,"opacity":1},"encoding":{"x":{"field":"x","type":"quantitative","axis":null},"y":{"field":"y","type":"quantitative","axis":null},"color":{"field":"d","type":"ordinal","scale":{"domain":[0,1,2,3,4],"range":["#1414ff","#3c78ff","#18c040","#f2e200","#ff2200"]},"legend":null},"order":{"field":"d","type":"quantitative"}}},
    {"data":{"name":"one"},"mark":{"type":"text","align":"left","baseline":"middle","fontSize":12,"color":"#404040"},"encoding":{"x":{"datum":8,"type":"quantitative","axis":null},"y":{"datum":90,"type":"quantitative","axis":null},"text":{"value":"- K562"}}},
    {"data":{"name":"one"},"mark":{"type":"text","align":"right","baseline":"middle","fontSize":12,"color":"#333"},"encoding":{"x":{"datum":82,"type":"quantitative","axis":null},"y":{"datum":69.5,"type":"quantitative","axis":null},"text":{"value":"1.2%"}}},
    {"data":{"name":"one"},"mark":{"type":"text","align":"center","baseline":"alphabetic","fontSize":14,"color":"#FF0000","lineHeight":16.5},"encoding":{"x":{"datum":50,"type":"quantitative","axis":null},"y":{"datum":121.6,"type":"quantitative","axis":null},"text":{"value":["Non-cirrhotic","HCV"]}}}
   ]},
   {"layer":[
    {"data":{"name":"one"},"mark":{"type":"rect","filled":false,"color":"#404040","strokeWidth":1.2},"encoding":{"x":{"datum":0,"type":"quantitative","axis":null},"x2":{"datum":100},"y":{"datum":0,"type":"quantitative","scale":{"domain":[0,100],"range":[227,136],"nice":false,"zero":false},"axis":null},"y2":{"datum":100}}},
    {"data":{"name":"one"},"mark":{"type":"rect","filled":false,"color":"#404040","strokeWidth":1.2},"encoding":{"x":{"datum":25.6,"type":"quantitative","axis":null},"x2":{"datum":92.6},"y":{"datum":10,"type":"quantitative","axis":null},"y2":{"datum":80}}},
    {"data":{"name":"flow"},"transform":[{"filter":"datum.p=='F8'"}],"mark":{"type":"square","size":9,"opacity":1},"encoding":{"x":{"field":"x","type":"quantitative","axis":null},"y":{"field":"y","type":"quantitative","axis":null},"color":{"field":"d","type":"ordinal","scale":{"domain":[0,1,2,3,4],"range":["#1414ff","#3c78ff","#18c040","#f2e200","#ff2200"]},"legend":null},"order":{"field":"d","type":"quantitative"}}},
    {"data":{"name":"one"},"mark":{"type":"text","align":"left","baseline":"middle","fontSize":12,"color":"#404040"},"encoding":{"x":{"datum":8,"type":"quantitative","axis":null},"y":{"datum":90,"type":"quantitative","axis":null},"text":{"value":"+ K562"}}},
    {"data":{"name":"one"},"mark":{"type":"text","align":"right","baseline":"middle","fontSize":12,"color":"#333"},"encoding":{"x":{"datum":82,"type":"quantitative","axis":null},"y":{"datum":69.5,"type":"quantitative","axis":null},"text":{"value":"45.9%"}}}
   ]}
  ]}
 ],
 "spacing": 0, "bounds": "flush"
},
{
 "hconcat": [
  {"width":57,"height":152,"data":{"name":"one"},"mark":{"type":"point","opacity":0},"encoding":{}},
  {"width":156,"height":152,"title":{"text":"G","anchor":"start","frame":"group","dx":-34,"offset":-48,"baseline":"alphabetic","fontSize":20,"fontWeight":"bold","color":"black"},"layer":[
    {"data":{"name":"bars"},"transform":[{"filter":"datum.n=='G'"}],"mark":{"type":"bar","fill":"white","stroke":"#8c8c8c","strokeWidth":1.5},"encoding":{"x":{"field":"g","type":"nominal","scale":{"domain":["Healthy","Cirrhotic non-HCV","Cirrhotic HCV","Non-cirrhotic HCV"],"range":[0,96],"paddingInner":0.4,"paddingOuter":0.2},"axis":{"orient":"bottom","labels":false,"ticks":false,"title":null}},"y":{"field":"m","type":"quantitative","scale":{"domain":[0,15],"range":[152,54],"nice":false,"zero":false},"axis":{"orient":"left","values":[0,5,10,15],"title":["% CD107a+","CD56ᵈⁱᵐ cells"]}}}},
    {"data":{"name":"bars"},"transform":[{"filter":"datum.n=='G'"}],"mark":{"type":"rule","color":"#8c8c8c","strokeWidth":1.2},"encoding":{"x":{"field":"g","type":"nominal"},"y":{"field":"m","type":"quantitative"},"y2":{"field":"e"}}},
    {"data":{"name":"bars"},"transform":[{"filter":"datum.n=='G'"}],"mark":{"type":"tick","color":"#8c8c8c","thickness":1.2,"size":7},"encoding":{"x":{"field":"g","type":"nominal"},"y":{"field":"e","type":"quantitative"}}},
    {"data":{"name":"dots"},"transform":[{"filter":"datum.n=='G'"}],"mark":{"type":"point","filled":true,"size":42,"stroke":"#111","strokeWidth":0.6,"opacity":1},"encoding":{"x":{"field":"g","type":"nominal"},"xOffset":{"field":"s","type":"quantitative","scale":{"domain":[0,17]}},"y":{"field":"v","type":"quantitative"},"fill":{"field":"g","type":"nominal","title":null,"scale":{"domain":["Healthy","Cirrhotic non-HCV","Cirrhotic HCV","Non-cirrhotic HCV"],"range":["#1C8AE8","#DCDC00","#000000","#FF0000"]}}}},
    {"data":{"name":"ann"},"transform":[{"filter":"datum.n=='G' && datum.k=='T'"}],"mark":{"type":"rule","color":"black","strokeWidth":1.5},"encoding":{"x":{"field":"a","type":"nominal","bandPosition":0.5},"x2":{"field":"b","bandPosition":0.9},"y":{"field":"lv","type":"quantitative"}}},
    {"data":{"name":"ann"},"transform":[{"filter":"datum.n=='G' && datum.k=='M'"}],"mark":{"type":"rule","color":"black","strokeWidth":1.5},"encoding":{"x":{"field":"a","type":"nominal","bandPosition":0.5},"x2":{"field":"b","bandPosition":0.25},"y":{"field":"lv","type":"quantitative"}}},
    {"data":{"name":"ann"},"transform":[{"filter":"datum.n=='G' && datum.k=='l'"}],"mark":{"type":"rule","color":"black","strokeWidth":1.5},"encoding":{"x":{"field":"a","type":"nominal","bandPosition":0.15},"x2":{"field":"b","bandPosition":0.2},"y":{"field":"lv","type":"quantitative"}}},
    {"data":{"name":"ann"},"transform":[{"filter":"datum.n=='G' && datum.k=='r'"}],"mark":{"type":"rule","color":"black","strokeWidth":1.5},"encoding":{"x":{"field":"a","type":"nominal","bandPosition":0.75},"x2":{"field":"b","bandPosition":1},"y":{"field":"lv","type":"quantitative"}}},
    {"data":{"name":"ann"},"transform":[{"filter":"datum.n=='G' && datum.k=='T'"}],"mark":{"type":"text","align":"center","baseline":"alphabetic","dy":-3,"dx":46,"fontSize":12,"color":"black"},"encoding":{"x":{"field":"a","type":"nominal","bandPosition":0},"y":{"field":"lv","type":"quantitative"},"text":{"field":"t"}}},
    {"data":{"name":"ann"},"transform":[{"filter":"datum.n=='G' && datum.k=='M'"}],"mark":{"type":"text","align":"center","baseline":"alphabetic","dy":-3,"dx":29,"fontSize":12,"color":"black"},"encoding":{"x":{"field":"a","type":"nominal","bandPosition":0},"y":{"field":"lv","type":"quantitative"},"text":{"field":"t"}}},
    {"data":{"name":"ann"},"transform":[{"filter":"datum.n=='G' && datum.k=='l'"}],"mark":{"type":"text","align":"center","baseline":"alphabetic","dy":-3,"dx":14.5,"fontSize":12,"color":"black"},"encoding":{"x":{"field":"a","type":"nominal","bandPosition":0},"y":{"field":"lv","type":"quantitative"},"text":{"field":"t"}}},
    {"data":{"name":"ann"},"transform":[{"filter":"datum.n=='G' && datum.k=='r'"}],"mark":{"type":"text","align":"left","baseline":"alphabetic","dy":-3,"fontSize":12,"color":"black"},"encoding":{"x":{"field":"a","type":"nominal","bandPosition":0.75},"y":{"field":"lv","type":"quantitative"},"text":{"field":"t"}}}
  ]},
  {"width":211,"height":152,"title":{"text":"-K562","anchor":"start","frame":"group","dx":-48,"offset":-37,"baseline":"alphabetic","fontSize":12,"fontWeight":"bold","color":"black"},"layer":[
    {"data":{"name":"pts"},"transform":[{"filter":"datum.n=='GL' && datum.t!='H'"}],"mark":{"type":"line","color":"#a8a8a8","strokeWidth":0.9},"encoding":{"x":{"field":"t","type":"nominal","scale":{"type":"point","domain":["_0","_1","_2","B","_4","_5","_6","_7","_8","W4","_10","_11","_12","_13","_14","_15","_16","_17","FU12","_19","_20","_21","_22","_23","_24","_25","_26","_27","_28","_29","_30","_31","_32","_33","_34","FU48","_36","_37","_38","_39","_40","_41","_42","H","_44"],"range":[0,127],"padding":0},"axis":{"orient":"bottom","values":["B","W4","FU12","FU48","H"],"ticks":false,"title":null,"labelAngle":0,"labelFontSize":11.5,"labelPadding":3}},"y":{"field":"v","type":"quantitative","scale":{"domain":[0,15],"range":[152,54],"nice":false,"zero":false},"axis":{"orient":"left","values":[0,5,10,15],"title":null}},"detail":{"field":"i","type":"nominal"},"order":{"value":null}}},
    {"data":{"name":"pts"},"transform":[{"filter":"datum.n=='GL' && datum.t!='H'"}],"mark":{"type":"point","filled":true,"size":42,"fill":"#000000","stroke":"#111","strokeWidth":0.6,"opacity":1},"encoding":{"x":{"field":"t","type":"nominal"},"y":{"field":"v","type":"quantitative"}}},
    {"data":{"name":"pts"},"transform":[{"filter":"datum.n=='GL' && datum.t=='H'"}],"mark":{"type":"point","filled":true,"size":42,"fill":"#1C8AE8","stroke":"#111","strokeWidth":0.6,"opacity":1},"encoding":{"x":{"field":"t","type":"nominal"},"y":{"field":"v","type":"quantitative"}}},
    {"data":{"name":"ann"},"transform":[{"filter":"datum.n=='GL'"}],"mark":{"type":"rule","color":"black","strokeWidth":1.5},"encoding":{"x":{"field":"a","type":"nominal"},"x2":{"field":"b"},"y":{"field":"lv","type":"quantitative"}}},
    {"data":{"name":"ann"},"transform":[{"filter":"datum.n=='GL'"}],"mark":{"type":"text","baseline":"alphabetic","dy":-3,"fontSize":12,"color":"black"},"encoding":{"x":{"field":"c","type":"nominal"},"y":{"field":"lv","type":"quantitative"},"text":{"field":"t"}}}
  ]},
  {"width":162,"height":152,"title":{"text":"H","anchor":"start","frame":"group","dx":-59,"offset":-48,"baseline":"alphabetic","fontSize":20,"fontWeight":"bold","color":"black"},"layer":[
    {"data":{"name":"bars"},"transform":[{"filter":"datum.n=='H'"}],"mark":{"type":"bar","fill":"white","stroke":"#8c8c8c","strokeWidth":1.5},"encoding":{"x":{"field":"g","type":"nominal","scale":{"domain":["Healthy","Cirrhotic non-HCV","Cirrhotic HCV","Non-cirrhotic HCV"],"range":[0,96],"paddingInner":0.4,"paddingOuter":0.2},"axis":{"orient":"bottom","labels":false,"ticks":false,"title":null}},"y":{"field":"m","type":"quantitative","scale":{"domain":[0,100],"range":[152,54],"nice":false,"zero":false},"axis":{"orient":"left","values":[0,20,40,60,80,100],"title":["% CD107a+","CD56ᵈⁱᵐ cells"]}}}},
    {"data":{"name":"bars"},"transform":[{"filter":"datum.n=='H'"}],"mark":{"type":"rule","color":"#8c8c8c","strokeWidth":1.2},"encoding":{"x":{"field":"g","type":"nominal"},"y":{"field":"m","type":"quantitative"},"y2":{"field":"e"}}},
    {"data":{"name":"bars"},"transform":[{"filter":"datum.n=='H'"}],"mark":{"type":"tick","color":"#8c8c8c","thickness":1.2,"size":7},"encoding":{"x":{"field":"g","type":"nominal"},"y":{"field":"e","type":"quantitative"}}},
    {"data":{"name":"dots"},"transform":[{"filter":"datum.n=='H'"}],"mark":{"type":"point","filled":true,"size":42,"stroke":"#111","strokeWidth":0.6,"opacity":1},"encoding":{"x":{"field":"g","type":"nominal"},"xOffset":{"field":"s","type":"quantitative","scale":{"domain":[0,17]}},"y":{"field":"v","type":"quantitative"},"fill":{"field":"g","type":"nominal","title":null,"scale":{"domain":["Healthy","Cirrhotic non-HCV","Cirrhotic HCV","Non-cirrhotic HCV"],"range":["#1C8AE8","#DCDC00","#000000","#FF0000"]}}}},
    {"data":{"name":"ann"},"transform":[{"filter":"datum.n=='H' && datum.k=='T'"}],"mark":{"type":"rule","color":"black","strokeWidth":1.5},"encoding":{"x":{"field":"a","type":"nominal","bandPosition":0.5},"x2":{"field":"b","bandPosition":0.9},"y":{"field":"lv","type":"quantitative"}}},
    {"data":{"name":"ann"},"transform":[{"filter":"datum.n=='H' && datum.k=='M'"}],"mark":{"type":"rule","color":"black","strokeWidth":1.5},"encoding":{"x":{"field":"a","type":"nominal","bandPosition":0.5},"x2":{"field":"b","bandPosition":0.25},"y":{"field":"lv","type":"quantitative"}}},
    {"data":{"name":"ann"},"transform":[{"filter":"datum.n=='H' && datum.k=='l'"}],"mark":{"type":"rule","color":"black","strokeWidth":1.5},"encoding":{"x":{"field":"a","type":"nominal","bandPosition":0.15},"x2":{"field":"b","bandPosition":0.2},"y":{"field":"lv","type":"quantitative"}}},
    {"data":{"name":"ann"},"transform":[{"filter":"datum.n=='H' && datum.k=='r'"}],"mark":{"type":"rule","color":"black","strokeWidth":1.5},"encoding":{"x":{"field":"a","type":"nominal","bandPosition":0.75},"x2":{"field":"b","bandPosition":1},"y":{"field":"lv","type":"quantitative"}}},
    {"data":{"name":"ann"},"transform":[{"filter":"datum.n=='H' && datum.k=='T'"}],"mark":{"type":"text","align":"center","baseline":"alphabetic","dy":-3,"dx":46,"fontSize":12,"color":"black"},"encoding":{"x":{"field":"a","type":"nominal","bandPosition":0},"y":{"field":"lv","type":"quantitative"},"text":{"field":"t"}}},
    {"data":{"name":"ann"},"transform":[{"filter":"datum.n=='H' && datum.k=='M'"}],"mark":{"type":"text","align":"center","baseline":"alphabetic","dy":-3,"dx":29,"fontSize":12,"color":"black"},"encoding":{"x":{"field":"a","type":"nominal","bandPosition":0},"y":{"field":"lv","type":"quantitative"},"text":{"field":"t"}}},
    {"data":{"name":"ann"},"transform":[{"filter":"datum.n=='H' && datum.k=='l'"}],"mark":{"type":"text","align":"center","baseline":"alphabetic","dy":-3,"dx":14.5,"fontSize":12,"color":"black"},"encoding":{"x":{"field":"a","type":"nominal","bandPosition":0},"y":{"field":"lv","type":"quantitative"},"text":{"field":"t"}}},
    {"data":{"name":"ann"},"transform":[{"filter":"datum.n=='H' && datum.k=='r'"}],"mark":{"type":"text","align":"left","baseline":"alphabetic","dy":-3,"fontSize":12,"color":"black"},"encoding":{"x":{"field":"a","type":"nominal","bandPosition":0.75},"y":{"field":"lv","type":"quantitative"},"text":{"field":"t"}}}
  ]},
  {"width":200,"height":152,"title":{"text":"+K562","anchor":"start","frame":"group","dx":-51,"offset":-37,"baseline":"alphabetic","fontSize":12,"fontWeight":"bold","color":"black"},"layer":[
    {"data":{"name":"pts"},"transform":[{"filter":"datum.n=='HL' && datum.t!='H'"}],"mark":{"type":"line","color":"#a8a8a8","strokeWidth":0.9},"encoding":{"x":{"field":"t","type":"nominal","scale":{"type":"point","domain":["_0","_1","_2","B","_4","_5","_6","_7","_8","W4","_10","_11","_12","_13","_14","_15","_16","_17","FU12","_19","_20","_21","_22","_23","_24","_25","_26","_27","_28","_29","_30","_31","_32","_33","_34","FU48","_36","_37","_38","_39","_40","_41","_42","H","_44"],"range":[0,121],"padding":0},"axis":{"orient":"bottom","values":["B","W4","FU12","FU48","H"],"ticks":false,"title":null,"labelAngle":0,"labelFontSize":11.5,"labelPadding":3}},"y":{"field":"v","type":"quantitative","scale":{"domain":[0,100],"range":[152,54],"nice":false,"zero":false},"axis":{"orient":"left","values":[0,20,40,60,80,100],"title":null}},"detail":{"field":"i","type":"nominal"},"order":{"value":null}}},
    {"data":{"name":"pts"},"transform":[{"filter":"datum.n=='HL' && datum.t!='H'"}],"mark":{"type":"point","filled":true,"size":42,"fill":"#000000","stroke":"#111","strokeWidth":0.6,"opacity":1},"encoding":{"x":{"field":"t","type":"nominal"},"y":{"field":"v","type":"quantitative"}}},
    {"data":{"name":"pts"},"transform":[{"filter":"datum.n=='HL' && datum.t=='H'"}],"mark":{"type":"point","filled":true,"size":42,"fill":"#1C8AE8","stroke":"#111","strokeWidth":0.6,"opacity":1},"encoding":{"x":{"field":"t","type":"nominal"},"y":{"field":"v","type":"quantitative"}}},
    {"data":{"name":"ann"},"transform":[{"filter":"datum.n=='HL'"}],"mark":{"type":"rule","color":"black","strokeWidth":1.5},"encoding":{"x":{"field":"a","type":"nominal"},"x2":{"field":"b"},"y":{"field":"lv","type":"quantitative"}}},
    {"data":{"name":"ann"},"transform":[{"filter":"datum.n=='HL'"}],"mark":{"type":"text","baseline":"alphabetic","dy":-3,"fontSize":12,"color":"black"},"encoding":{"x":{"field":"c","type":"nominal"},"y":{"field":"lv","type":"quantitative"},"text":{"field":"t"}}}
  ]},
  {"width":167,"height":152,"title":{"text":"I","anchor":"start","frame":"group","dx":-84,"offset":-48,"baseline":"alphabetic","fontSize":20,"fontWeight":"bold","color":"black"},"layer":[
    {"data":{"name":"bars"},"transform":[{"filter":"datum.n=='I'"}],"mark":{"type":"bar","fill":"white","stroke":"#8c8c8c","strokeWidth":1.5},"encoding":{"x":{"field":"g","type":"nominal","scale":{"domain":["Healthy","Cirrhotic non-HCV","Cirrhotic HCV","Non-cirrhotic HCV"],"range":[0,101],"paddingInner":0.4,"paddingOuter":0.2},"axis":{"orient":"bottom","labels":false,"ticks":false,"title":null}},"y":{"field":"m","type":"quantitative","scale":{"domain":[0,100],"range":[152,54],"nice":false,"zero":false},"axis":{"orient":"left","values":[0,20,40,60,80,100],"titlePadding":2,"titleLineHeight":13.5,"title":["Fold-increase in","%CD107a+","CD56ᵈⁱᵐ cells"]}}}},
    {"data":{"name":"bars"},"transform":[{"filter":"datum.n=='I'"}],"mark":{"type":"rule","color":"#8c8c8c","strokeWidth":1.2},"encoding":{"x":{"field":"g","type":"nominal"},"y":{"field":"m","type":"quantitative"},"y2":{"field":"e"}}},
    {"data":{"name":"bars"},"transform":[{"filter":"datum.n=='I'"}],"mark":{"type":"tick","color":"#8c8c8c","thickness":1.2,"size":7},"encoding":{"x":{"field":"g","type":"nominal"},"y":{"field":"e","type":"quantitative"}}},
    {"data":{"name":"dots"},"transform":[{"filter":"datum.n=='I'"}],"mark":{"type":"point","filled":true,"size":42,"stroke":"#111","strokeWidth":0.6,"opacity":1},"encoding":{"x":{"field":"g","type":"nominal"},"xOffset":{"field":"s","type":"quantitative","scale":{"domain":[0,17]}},"y":{"field":"v","type":"quantitative"},"fill":{"field":"g","type":"nominal","title":null,"scale":{"domain":["Healthy","Cirrhotic non-HCV","Cirrhotic HCV","Non-cirrhotic HCV"],"range":["#1C8AE8","#DCDC00","#000000","#FF0000"]}}}},
    {"data":{"name":"ann"},"transform":[{"filter":"datum.n=='I' && datum.k=='T'"}],"mark":{"type":"rule","color":"black","strokeWidth":1.5},"encoding":{"x":{"field":"a","type":"nominal","bandPosition":0.5},"x2":{"field":"b","bandPosition":0.9},"y":{"field":"lv","type":"quantitative"}}},
    {"data":{"name":"ann"},"transform":[{"filter":"datum.n=='I' && datum.k=='M'"}],"mark":{"type":"rule","color":"black","strokeWidth":1.5},"encoding":{"x":{"field":"a","type":"nominal","bandPosition":0.5},"x2":{"field":"b","bandPosition":0.25},"y":{"field":"lv","type":"quantitative"}}},
    {"data":{"name":"ann"},"transform":[{"filter":"datum.n=='I' && datum.k=='l'"}],"mark":{"type":"rule","color":"black","strokeWidth":1.5},"encoding":{"x":{"field":"a","type":"nominal","bandPosition":0.15},"x2":{"field":"b","bandPosition":0.2},"y":{"field":"lv","type":"quantitative"}}},
    {"data":{"name":"ann"},"transform":[{"filter":"datum.n=='I' && datum.k=='r'"}],"mark":{"type":"rule","color":"black","strokeWidth":1.5},"encoding":{"x":{"field":"a","type":"nominal","bandPosition":0.75},"x2":{"field":"b","bandPosition":1},"y":{"field":"lv","type":"quantitative"}}},
    {"data":{"name":"ann"},"transform":[{"filter":"datum.n=='I' && datum.k=='T'"}],"mark":{"type":"text","align":"center","baseline":"alphabetic","dy":-3,"dx":48,"fontSize":12,"color":"black"},"encoding":{"x":{"field":"a","type":"nominal","bandPosition":0},"y":{"field":"lv","type":"quantitative"},"text":{"field":"t"}}},
    {"data":{"name":"ann"},"transform":[{"filter":"datum.n=='I' && datum.k=='M'"}],"mark":{"type":"text","align":"center","baseline":"alphabetic","dy":-3,"dx":31,"fontSize":12,"color":"black"},"encoding":{"x":{"field":"a","type":"nominal","bandPosition":0},"y":{"field":"lv","type":"quantitative"},"text":{"field":"t"}}},
    {"data":{"name":"ann"},"transform":[{"filter":"datum.n=='I' && datum.k=='l'"}],"mark":{"type":"text","align":"center","baseline":"alphabetic","dy":-3,"dx":15.5,"fontSize":12,"color":"black"},"encoding":{"x":{"field":"a","type":"nominal","bandPosition":0},"y":{"field":"lv","type":"quantitative"},"text":{"field":"t"}}},
    {"data":{"name":"ann"},"transform":[{"filter":"datum.n=='I' && datum.k=='r'"}],"mark":{"type":"text","align":"left","baseline":"alphabetic","dy":-3,"fontSize":12,"color":"black"},"encoding":{"x":{"field":"a","type":"nominal","bandPosition":0.75},"y":{"field":"lv","type":"quantitative"},"text":{"field":"t"}}}
  ]},
  {"width":131,"height":152,"layer":[
    {"data":{"name":"pts"},"transform":[{"filter":"datum.n=='IL' && datum.t!='H'"}],"mark":{"type":"line","color":"#a8a8a8","strokeWidth":0.9},"encoding":{"x":{"field":"t","type":"nominal","scale":{"type":"point","domain":["_0","_1","_2","B","_4","_5","_6","_7","_8","W4","_10","_11","_12","_13","_14","_15","_16","_17","FU12","_19","_20","_21","_22","_23","_24","_25","_26","_27","_28","_29","_30","_31","_32","_33","_34","FU48","_36","_37","_38","_39","_40","_41","_42","H","_44"],"range":[0,121],"padding":0},"axis":{"orient":"bottom","values":["B","W4","FU12","FU48","H"],"ticks":false,"title":null,"labelAngle":0,"labelFontSize":11.5,"labelPadding":3}},"y":{"field":"v","type":"quantitative","scale":{"domain":[0,100],"range":[152,54],"nice":false,"zero":false},"axis":{"orient":"left","values":[0,20,40,60,80,100],"title":null}},"detail":{"field":"i","type":"nominal"},"order":{"value":null}}},
    {"data":{"name":"pts"},"transform":[{"filter":"datum.n=='IL' && datum.t!='H'"}],"mark":{"type":"point","filled":true,"size":42,"fill":"#000000","stroke":"#111","strokeWidth":0.6,"opacity":1},"encoding":{"x":{"field":"t","type":"nominal"},"y":{"field":"v","type":"quantitative"}}},
    {"data":{"name":"pts"},"transform":[{"filter":"datum.n=='IL' && datum.t=='H'"}],"mark":{"type":"point","filled":true,"size":42,"fill":"#1C8AE8","stroke":"#111","strokeWidth":0.6,"opacity":1},"encoding":{"x":{"field":"t","type":"nominal"},"y":{"field":"v","type":"quantitative"}}},
    {"data":{"name":"ann"},"transform":[{"filter":"datum.n=='IL'"}],"mark":{"type":"rule","color":"black","strokeWidth":1.5},"encoding":{"x":{"field":"a","type":"nominal"},"x2":{"field":"b"},"y":{"field":"lv","type":"quantitative"}}},
    {"data":{"name":"ann"},"transform":[{"filter":"datum.n=='IL'"}],"mark":{"type":"text","baseline":"alphabetic","dy":-3,"fontSize":12,"color":"black"},"encoding":{"x":{"field":"c","type":"nominal"},"y":{"field":"lv","type":"quantitative"},"text":{"field":"t"}}}
  ]}
 ],
 "spacing": 0, "bounds": "flush", "resolve": {"scale": {"xOffset": "independent"}}
}
]
}
